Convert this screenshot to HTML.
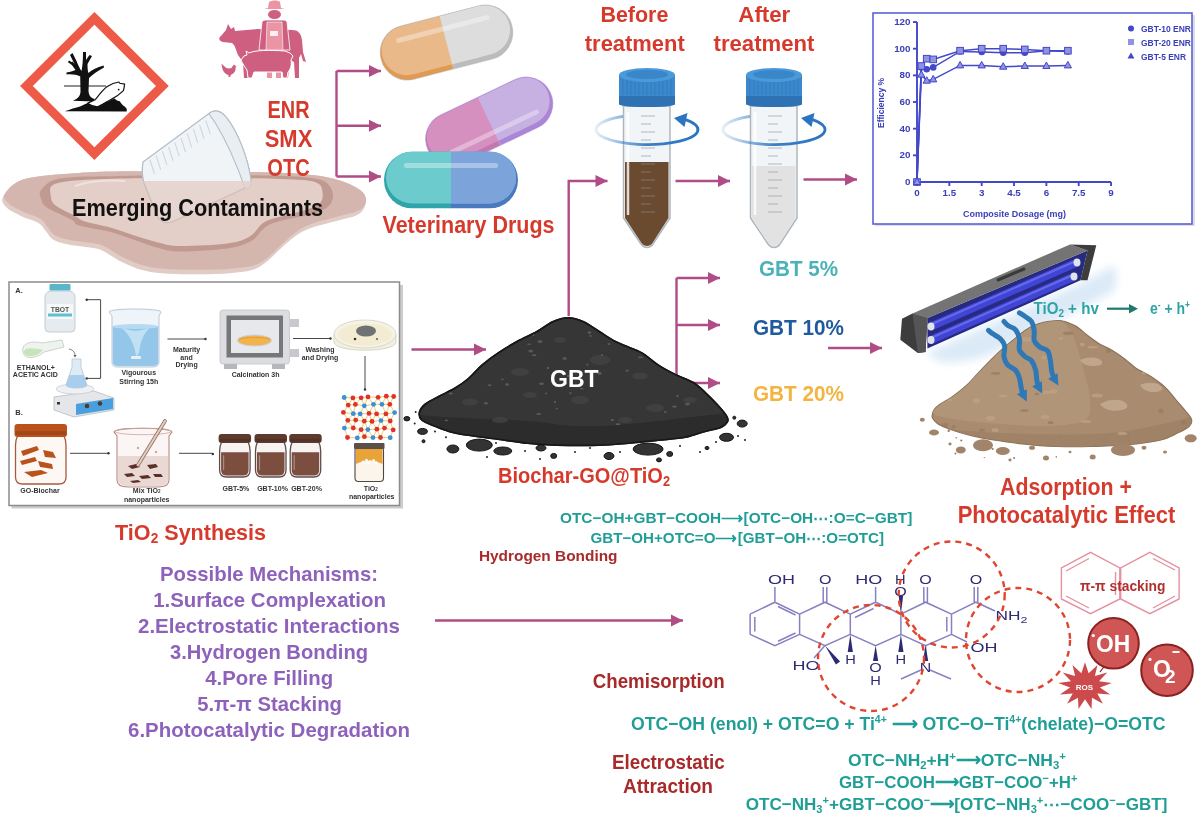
<!DOCTYPE html>
<html><head><meta charset="utf-8">
<style>
html,body{margin:0;padding:0;background:#fff;}
body{width:1200px;height:817px;overflow:hidden;position:relative;}
svg{position:absolute;left:0;top:0;filter:blur(0.35px);}
text{font-family:"Liberation Sans",Arial,sans-serif;}
.red{fill:#d63a2c;}
.dred{fill:#a82a2a;}
.teal{fill:#1f9e96;}
.pur{fill:#8e62bb;}
</style></head>
<body>
<svg width="1200" height="817" viewBox="0 0 1200 817">
<g stroke="#b04c86" stroke-width="2.4" fill="none"><path d="M336.5,71 V176.5"/><path d="M336.5,71 H381"/><path d="M336.5,125.7 H381"/><path d="M336.5,176.5 H381"/><path d="M568.7,316 V181 H607.5"/><path d="M675.5,181 H730"/><path d="M803.5,179.5 H857"/><path d="M411.5,349.5 H486"/><path d="M676.5,278 V383"/><path d="M676.5,278 H720"/><path d="M676.5,325 H720"/><path d="M676.5,383 H720"/><path d="M828,348 H882"/><path d="M435,620.5 H683"/></g><path d="M381,71 L369,65 L369,77 Z" fill="#b04c86"/><path d="M381,125.7 L369,119.7 L369,131.7 Z" fill="#b04c86"/><path d="M381,176.5 L369,170.5 L369,182.5 Z" fill="#b04c86"/><path d="M607.5,181 L595.5,175 L595.5,187 Z" fill="#b04c86"/><path d="M730,181 L718,175 L718,187 Z" fill="#b04c86"/><path d="M857,179.5 L845,173.5 L845,185.5 Z" fill="#b04c86"/><path d="M486,349.5 L474,343.5 L474,355.5 Z" fill="#b04c86"/><path d="M720,278 L708,272 L708,284 Z" fill="#b04c86"/><path d="M720,325 L708,319 L708,331 Z" fill="#b04c86"/><path d="M720,383 L708,377 L708,389 Z" fill="#b04c86"/><path d="M882,348 L870,342 L870,354 Z" fill="#b04c86"/><path d="M683,620.5 L671,614.5 L671,626.5 Z" fill="#b04c86"/>
<path d="M94.4,18.3 L162.4,86 L94.4,153.7 L26.4,86 Z" fill="#fff" stroke="#ee5a48" stroke-width="9" stroke-linejoin="miter"/>
<path d="M64,86 H106" stroke="#222" stroke-width="1.1"/>
<path d="M73,100.8 C77,99 80,97 80.5,92 L80.2,76 C79,72 76,68 73.5,62 L70,55 L72.5,53 L76.5,61 C78,65 80,69 81.5,71 C82.5,66 83,60 83,52 L86,52 L86,60 L89.5,55 L92,56 L87.5,64 C87.5,68 87.8,71 88.3,73 C92,70 97,67 103.6,65.5 L104,67.5 C98,71 93,74 89,78 L88.5,91 C89,96 91,98 94.5,99 L94,101.5 Z" fill="#111"/>
<path d="M80.4,76.5 C77,75 72,74 66.5,74.5 L66.5,72.5 C70,72 73,71 75.5,70 L70.5,63 L72.5,61.5 L77.5,68.5 C79,70 80.5,72 80.8,73 Z" fill="#111"/>
<path d="M68.5,61.3 L76.5,66.5" stroke="#111" stroke-width="2.2"/>
<path d="M64.6,111.2 C70,109.5 76,107.5 80,106.5 C84,104.5 87,103.2 89,103 L99,102.5 C104,102 108,101.5 110,100.5 L114.4,98.4 L117,100.5 L119.7,101.2 L121.5,103.8 L123.2,105.6 L125,106.8 L126.8,109 L126.7,111.5 Z" fill="#111"/>
<path d="M87.5,103.3 C90,102 93,100.8 95.5,99.4 C99,95 103,89.5 107.3,86.6 C111,84 115,82.4 118.8,82 L120,83.5 L121.5,83.5 L124.6,84.2 C124.4,86 124,88.5 123.4,90.6 C119,95 114,98 110.9,99.6 C106,102.5 101,105 97.6,106.8 C95,106.8 92,106.5 87.5,103.3 Z" fill="#fff" stroke="#111" stroke-width="1.2" stroke-linejoin="round"/>
<circle cx="118.7" cy="89.6" r="0.9" fill="#111"/>
<path d="M221,36 L226,30 L228,24 L231,29 L234,27 L235,31 L258,29 L292,30 C298,30 301,33 302,40 L303,52 L306,62 L303,61 L301,54 L299,58 L299,78 L295,78 L294,62 L290,60 L288,78 L284,78 L283,62 L250,60 L248,78 L244,78 L243,62 L238,55 C236,50 235,45 232,43 L223,42 C219,41 218,38 221,36 Z" fill="#cf5f80"/>
<path d="M264,9 L268,8 L269,2 C272,0 278,0 280,2 L281,8 L285,9 Z" fill="#eb95a4"/>
<ellipse cx="274.5" cy="14.5" rx="6.5" ry="4.5" fill="#cf5f80"/>
<path d="M262,22 C262,21 264,20 266,20 L283,20 C285,20 287,21 287,22 L290,50 L259,50 Z" fill="#cf5f80" stroke="#fff" stroke-width="0.8"/>
<path d="M267,22 L282,22 L283,50 L266,50 Z" fill="#eb95a4" stroke="#fff" stroke-width="0.6"/>
<rect x="270" y="31" width="8" height="5" fill="#fff" opacity="0.85"/>
<rect x="267" y="71" width="5" height="7" fill="#eb95a4"/><rect x="276" y="71" width="5" height="7" fill="#eb95a4"/>
<path d="M241,60 L244,56 L247,55 L246,51 L249,53 C255,50 270,50 285,51 L290,53 L293,56 L291,60 C292,66 290,70 288,72 L287,78 L283,78 L282,72 L254,72 L252,78 L248,78 L247,70 C245,67 242,63 241,60 Z" fill="#cf5f80" stroke="#fff" stroke-width="1"/>
<path d="M221.5,63.5 L224,66 C226,68.5 229,69 231.5,68 L233,65.5 L234.5,64.5 L235,65.5 L236.5,66.5 L235.5,67.5 C236,70.5 234.5,73.5 231,74.8 L230,77 L228.5,77 L228.5,75 C224.5,74 222,70.5 221.5,63.5 Z" fill="#cf5f80"/>
<clipPath id="pclip"><path d="M3.3,196.5 C6.2,191.8 11.0,183.2 23.7,179.3 C36.4,175.4 59.9,174.2 79.2,172.9 C98.5,171.6 110.6,171.4 139.3,171.3 C168.0,171.2 223.3,171.6 251.2,172.1 C279.1,172.6 292.2,173.2 306.7,174.5 C321.2,175.8 329.3,177.4 338.3,180.0 C347.3,182.6 355.9,186.7 360.5,190.3 C365.1,193.9 366.2,197.5 366.0,201.4 C365.8,205.3 363.6,210.8 359.0,214.0 C354.4,217.2 345.7,218.3 338.3,220.4 C330.9,222.5 321.0,224.6 314.6,226.7 C308.2,228.8 304.4,230.4 300.0,233.0 C295.6,235.6 292.0,238.7 288.0,242.0 C284.0,245.3 279.8,249.5 276.0,253.0 C272.2,256.5 269.0,260.2 265.0,263.0 C261.0,265.8 258.4,268.3 252.0,270.0 C245.6,271.7 237.0,272.7 226.7,273.4 C216.4,274.1 200.7,274.3 190.0,274.3 C179.3,274.3 170.8,274.1 162.5,273.3 C154.2,272.5 147.1,271.6 140.0,269.5 C132.9,267.4 125.0,263.4 120.0,261.0 C115.0,258.6 113.3,256.9 110.0,255.0 C106.7,253.1 103.7,250.8 100.0,249.5 C96.3,248.2 93.7,248.1 88.0,247.2 C82.3,246.3 71.8,245.2 66.0,243.9 C60.1,242.6 56.2,241.5 52.9,239.5 C49.6,237.5 48.7,234.6 46.3,231.8 C43.9,229.1 42.6,225.6 38.6,223.0 C34.6,220.4 27.3,219.0 22.0,216.4 C16.7,213.8 9.7,210.8 6.6,207.5 C3.5,204.2 0.4,201.2 3.3,196.5Z"/></clipPath>
<path d="M3.3,196.5 C6.2,191.8 11.0,183.2 23.7,179.3 C36.4,175.4 59.9,174.2 79.2,172.9 C98.5,171.6 110.6,171.4 139.3,171.3 C168.0,171.2 223.3,171.6 251.2,172.1 C279.1,172.6 292.2,173.2 306.7,174.5 C321.2,175.8 329.3,177.4 338.3,180.0 C347.3,182.6 355.9,186.7 360.5,190.3 C365.1,193.9 366.2,197.5 366.0,201.4 C365.8,205.3 363.6,210.8 359.0,214.0 C354.4,217.2 345.7,218.3 338.3,220.4 C330.9,222.5 321.0,224.6 314.6,226.7 C308.2,228.8 304.4,230.4 300.0,233.0 C295.6,235.6 292.0,238.7 288.0,242.0 C284.0,245.3 279.8,249.5 276.0,253.0 C272.2,256.5 269.0,260.2 265.0,263.0 C261.0,265.8 258.4,268.3 252.0,270.0 C245.6,271.7 237.0,272.7 226.7,273.4 C216.4,274.1 200.7,274.3 190.0,274.3 C179.3,274.3 170.8,274.1 162.5,273.3 C154.2,272.5 147.1,271.6 140.0,269.5 C132.9,267.4 125.0,263.4 120.0,261.0 C115.0,258.6 113.3,256.9 110.0,255.0 C106.7,253.1 103.7,250.8 100.0,249.5 C96.3,248.2 93.7,248.1 88.0,247.2 C82.3,246.3 71.8,245.2 66.0,243.9 C60.1,242.6 56.2,241.5 52.9,239.5 C49.6,237.5 48.7,234.6 46.3,231.8 C43.9,229.1 42.6,225.6 38.6,223.0 C34.6,220.4 27.3,219.0 22.0,216.4 C16.7,213.8 9.7,210.8 6.6,207.5 C3.5,204.2 0.4,201.2 3.3,196.5Z" fill="#e0cbc5"/>
<g clip-path="url(#pclip)"><path d="M3.3,196.5 C6.2,191.8 11.0,183.2 23.7,179.3 C36.4,175.4 59.9,174.2 79.2,172.9 C98.5,171.6 110.6,171.4 139.3,171.3 C168.0,171.2 223.3,171.6 251.2,172.1 C279.1,172.6 292.2,173.2 306.7,174.5 C321.2,175.8 329.3,177.4 338.3,180.0 C347.3,182.6 355.9,186.7 360.5,190.3 C365.1,193.9 366.2,197.5 366.0,201.4 C365.8,205.3 363.6,210.8 359.0,214.0 C354.4,217.2 345.7,218.3 338.3,220.4 C330.9,222.5 321.0,224.6 314.6,226.7 C308.2,228.8 304.4,230.4 300.0,233.0 C295.6,235.6 292.0,238.7 288.0,242.0 C284.0,245.3 279.8,249.5 276.0,253.0 C272.2,256.5 269.0,260.2 265.0,263.0 C261.0,265.8 258.4,268.3 252.0,270.0 C245.6,271.7 237.0,272.7 226.7,273.4 C216.4,274.1 200.7,274.3 190.0,274.3 C179.3,274.3 170.8,274.1 162.5,273.3 C154.2,272.5 147.1,271.6 140.0,269.5 C132.9,267.4 125.0,263.4 120.0,261.0 C115.0,258.6 113.3,256.9 110.0,255.0 C106.7,253.1 103.7,250.8 100.0,249.5 C96.3,248.2 93.7,248.1 88.0,247.2 C82.3,246.3 71.8,245.2 66.0,243.9 C60.1,242.6 56.2,241.5 52.9,239.5 C49.6,237.5 48.7,234.6 46.3,231.8 C43.9,229.1 42.6,225.6 38.6,223.0 C34.6,220.4 27.3,219.0 22.0,216.4 C16.7,213.8 9.7,210.8 6.6,207.5 C3.5,204.2 0.4,201.2 3.3,196.5Z" fill="#d5b6ae" transform="translate(1.5,-4.5)"/></g>
<path d="M60.0,178.5 C46.9,180.8 44.3,186.4 41.2,190.0 C38.1,193.6 40.5,197.0 41.5,200.0 C42.5,203.0 42.5,204.8 47.5,208.0 C52.5,211.2 66.0,216.6 71.3,219.5 C76.6,222.4 72.6,223.4 79.2,225.5 C85.8,227.6 101.6,229.6 110.8,232.0 C120.0,234.4 126.7,237.3 134.6,240.0 C142.5,242.7 150.7,246.1 158.3,248.0 C165.9,249.9 168.5,251.4 180.0,251.5 C191.5,251.6 215.6,250.2 227.5,248.5 C239.4,246.8 245.4,244.1 251.2,241.0 C257.0,237.9 258.9,232.9 262.3,230.0 C265.7,227.1 267.1,225.4 271.8,223.5 C276.6,221.6 283.7,220.2 290.8,218.5 C297.9,216.8 308.3,215.6 314.6,213.5 C320.9,211.4 325.7,209.1 328.8,206.0 C331.9,202.9 333.1,198.7 333.0,195.0 C332.9,191.3 331.1,186.8 328.0,184.0 C324.9,181.2 322.1,179.8 314.6,178.5 C307.1,177.2 302.1,176.6 283.0,176.0 C263.9,175.4 227.2,175.0 200.0,175.0 C172.8,175.0 143.3,175.4 120.0,176.0 C96.7,176.6 73.1,176.2 60.0,178.5Z" fill="#c09a90"/>
<path d="M70.0,181.0 C58.7,182.2 55.4,183.3 52.2,185.6 C49.0,187.9 50.2,191.8 50.7,195.0 C51.2,198.2 51.0,201.5 55.0,205.0 C59.0,208.5 70.0,213.2 75.0,216.0 C80.0,218.8 78.8,219.5 85.0,221.5 C91.2,223.5 103.5,225.6 112.0,228.0 C120.5,230.4 128.0,233.5 136.0,236.0 C144.0,238.5 152.7,241.3 160.0,243.0 C167.3,244.7 168.8,245.9 180.0,246.0 C191.2,246.1 215.9,245.1 227.5,243.5 C239.1,241.9 243.9,239.8 249.7,236.5 C255.5,233.2 258.6,226.5 262.3,223.6 C266.0,220.7 267.1,220.6 271.8,219.0 C276.6,217.4 283.1,216.3 290.8,214.0 C298.5,211.7 312.7,208.7 318.0,205.0 C323.3,201.3 323.0,195.8 322.5,192.0 C322.0,188.2 321.9,184.2 315.0,182.0 C308.1,179.8 300.5,179.7 281.3,179.0 C262.1,178.3 226.9,178.1 200.0,178.0 C173.1,177.9 141.7,178.0 120.0,178.5 C98.3,179.0 81.3,179.8 70.0,181.0Z" fill="#e4cec8"/>
<path d="M75,186 C90,181 110,180 125,181" stroke="#efe2de" stroke-width="2" fill="none"/>
<path d="M143,162 L209,113.5 C214,109.5 220,110 226,117 C238,132 248,158 251,180 C252,186 249,189 245,188 L172,222 C165,224 160,222 157,215 L144,183 C142,176 142,168 143,162 Z" fill="#f1f4f7" stroke="#b3bec7" stroke-width="1.3"/>
<path d="M209,113.5 C214,109.5 220,110 226,117 C238,132 248,158 251,180 C252,186 249,189 245,188 C238,168 228,144 216,124 C213,119 210,116 209,113.5 Z" fill="#e9eef2" stroke="#b3bec7" stroke-width="1.1"/>
<path d="M150.0,160.0 l4.5,14 M156.2,155.6 l4.5,14 M162.4,151.2 l4.5,14 M168.6,146.8 l4.5,14 M174.8,142.4 l4.5,14 M181.0,138.0 l4.5,14 M187.2,133.6 l4.5,14 M193.4,129.2 l4.5,14 M199.6,124.8 l4.5,14 M205.8,120.4 l4.5,14 " stroke="#cdd6de" stroke-width="1.1"/>
<path d="M143,181 L252,181 L252,190 L245,189 L172,223 C165,225 160,223 157,216 Z" fill="#e4cec8" opacity="0.82"/>
<path d="M245,188 L172,222 C165,224 160,222 157,215 L144,183" fill="none" stroke="#d2bcb6" stroke-width="1"/>
<g transform="translate(446.5,42.5) rotate(-14.5)"><clipPath id="cp44642"><rect x="-67.5" y="-27.5" width="135" height="55" rx="27.5"/></clipPath><g clip-path="url(#cp44642)"><rect x="-67.5" y="-27.5" width="67.5" height="55" fill="#e09a52"/><rect x="0" y="-27.5" width="67.5" height="55" fill="#bcbcbc"/><rect x="-65.5" y="-27.5" width="131" height="50" rx="25.5" fill="#eab98a"/><rect x="0" y="-27.5" width="65.5" height="50" rx="25.5" fill="#dddddd"/><rect x="0" y="-27.5" width="27.5" height="50" fill="#dddddd"/><rect x="-48.25" y="-16.5" width="96.5" height="4.95" rx="2" fill="#ffffff" opacity="0.35"/></g><rect x="-67.5" y="-27.5" width="135" height="55" rx="27.5" fill="none" stroke="#b0b0b0" stroke-width="1" opacity="0.6"/></g>
<g transform="translate(489.2,121.3) rotate(-25.5)"><clipPath id="cp489121"><rect x="-67.5" y="-26.5" width="135" height="53" rx="26.5"/></clipPath><g clip-path="url(#cp489121)"><rect x="-67.5" y="-26.5" width="67.5" height="53" fill="#c478b0"/><rect x="0" y="-26.5" width="67.5" height="53" fill="#a987d6"/><rect x="-65.5" y="-26.5" width="131" height="48" rx="24.5" fill="#d690c0"/><rect x="0" y="-26.5" width="65.5" height="48" rx="24.5" fill="#c7b0e2"/><rect x="0" y="-26.5" width="26.5" height="48" fill="#c7b0e2"/><rect x="-48.95" y="9.54" width="97.9" height="4.77" rx="2" fill="#ffffff" opacity="0.35"/></g><rect x="-67.5" y="-26.5" width="135" height="53" rx="26.5" fill="none" stroke="#a27ad2" stroke-width="1" opacity="0.6"/></g>
<g transform="translate(451,180) rotate(0)"><clipPath id="cp451180"><rect x="-67.0" y="-28.5" width="134" height="57" rx="28.5"/></clipPath><g clip-path="url(#cp451180)"><rect x="-67.0" y="-28.5" width="67.0" height="57" fill="#2fa5a9"/><rect x="0" y="-28.5" width="67.0" height="57" fill="#4a79c0"/><rect x="-65.0" y="-28.5" width="130" height="52" rx="26.5" fill="#6ccbcc"/><rect x="0" y="-28.5" width="65.0" height="52" rx="26.5" fill="#7ca3da"/><rect x="0" y="-28.5" width="28.5" height="52" fill="#7ca3da"/><rect x="-47.05" y="-17.1" width="94.1" height="5.13" rx="2" fill="#ffffff" opacity="0.35"/></g></g>
<path d="M623.5,106 L670,106 L670,218 L653,244 C650,248.5 644,248.5 641,244 L623.5,218 Z" fill="#f2f5f8" stroke="#aeb6be" stroke-width="1.5"/>
<path d="M625,162 L668.5,162 L668.5,218 L652.5,243 C650,247 644,247 641.5,243 L625,218 Z" fill="#6b4b2f"/>
<path d="M641,116 h14 M641,124 h10 M641,132 h14 M641,140 h10 M641,148 h14 M641,156 h10 M641,164 h14 M641,172 h10 M641,180 h14 M641,188 h10 M641,196 h14 M641,204 h10 M641,212 h14 " stroke="#8a9096" stroke-width="1" opacity="0.6"/>
<path d="M628,112 L628,215" stroke="#ffffff" stroke-width="2.5" opacity="0.8"/>
<path d="M619,75 L675,75 L675,104 C675,108 619,108 619,104 Z" fill="#3b88cc"/>
<path d="M619,96 L675,96 L675,104 C675,108 619,108 619,104 Z" fill="#2f72b3"/>
<path d="M623,78 V95 M627,78 V95 M631,78 V95 M635,78 V95 M639,78 V95 M643,78 V95 M647,78 V95 M651,78 V95 M655,78 V95 M659,78 V95 M663,78 V95 M667,78 V95 M671,78 V95 " stroke="#2f78bd" stroke-width="1" opacity="0.7"/>
<ellipse cx="647" cy="75" rx="28" ry="7" fill="#4a9ad9"/>
<ellipse cx="647" cy="74.5" rx="21" ry="4.5" fill="#3a86ca"/>
<defs><linearGradient id="rg647" gradientUnits="userSpaceOnUse" x1="595" x2="699" y1="0" y2="0"><stop offset="0" stop-color="#3a80c8" stop-opacity="0.12"/><stop offset="0.5" stop-color="#2f7ac4" stop-opacity="0.95"/><stop offset="1" stop-color="#2a74c0"/></linearGradient></defs>
<path d="M623,116.3 A51,15 0 1 0 685.5,119.7" fill="none" stroke="url(#rg647)" stroke-width="2.8"/>
<path d="M674,118.0 L687.5,113.0 L684.5,127.0 Z" fill="#2a74c0"/>
<path d="M750.5,106 L797,106 L797,218 L780,244 C777,248.5 771,248.5 768,244 L750.5,218 Z" fill="#f2f5f8" stroke="#aeb6be" stroke-width="1.5"/>
<path d="M752,166 L795.5,166 L795.5,218 L779.5,243 C777,247 771,247 768.5,243 L752,218 Z" fill="#e2e2e2"/>
<path d="M768,116 h14 M768,124 h10 M768,132 h14 M768,140 h10 M768,148 h14 M768,156 h10 M768,164 h14 M768,172 h10 M768,180 h14 M768,188 h10 M768,196 h14 M768,204 h10 M768,212 h14 " stroke="#8a9096" stroke-width="1" opacity="0.6"/>
<path d="M755,112 L755,215" stroke="#ffffff" stroke-width="2.5" opacity="0.8"/>
<path d="M746,75 L802,75 L802,104 C802,108 746,108 746,104 Z" fill="#3b88cc"/>
<path d="M746,96 L802,96 L802,104 C802,108 746,108 746,104 Z" fill="#2f72b3"/>
<path d="M750,78 V95 M754,78 V95 M758,78 V95 M762,78 V95 M766,78 V95 M770,78 V95 M774,78 V95 M778,78 V95 M782,78 V95 M786,78 V95 M790,78 V95 M794,78 V95 M798,78 V95 " stroke="#2f78bd" stroke-width="1" opacity="0.7"/>
<ellipse cx="774" cy="75" rx="28" ry="7" fill="#4a9ad9"/>
<ellipse cx="774" cy="74.5" rx="21" ry="4.5" fill="#3a86ca"/>
<defs><linearGradient id="rg774" gradientUnits="userSpaceOnUse" x1="722" x2="826" y1="0" y2="0"><stop offset="0" stop-color="#3a80c8" stop-opacity="0.12"/><stop offset="0.5" stop-color="#2f7ac4" stop-opacity="0.95"/><stop offset="1" stop-color="#2a74c0"/></linearGradient></defs>
<path d="M750,116.3 A51,15 0 1 0 812.5,119.7" fill="none" stroke="url(#rg774)" stroke-width="2.8"/>
<path d="M801,118.0 L814.5,113.0 L811.5,127.0 Z" fill="#2a74c0"/>
<rect x="875" y="15" width="320" height="211" fill="#c8c8d8" opacity="0.6"/>
<rect x="873" y="13" width="319" height="211" fill="#fff" stroke="#5b62d8" stroke-width="1.6"/>
<g stroke="#4348c8" stroke-width="1.9" fill="none"><path d="M917.0,22.039999999999992 V182.0 H1111.04"/><path d="M913.0,182.0 H917.0"/><path d="M913.0,155.34 H917.0"/><path d="M913.0,128.68 H917.0"/><path d="M913.0,102.02 H917.0"/><path d="M913.0,75.36 H917.0"/><path d="M913.0,48.70000000000002 H917.0"/><path d="M913.0,22.039999999999992 H917.0"/><path d="M917.0,182.0 V186.0"/><path d="M949.34,182.0 V186.0"/><path d="M981.68,182.0 V186.0"/><path d="M1014.02,182.0 V186.0"/><path d="M1046.36,182.0 V186.0"/><path d="M1078.7,182.0 V186.0"/><path d="M1111.04,182.0 V186.0"/></g>
<polyline points="917.0,182.0 921.3,74.7 926.7,80.7 933.2,79.4 960.1,65.4 981.7,65.4 1003.2,66.7 1024.8,66.0 1046.4,66.0 1067.9,65.4" fill="none" stroke="#4348c8" stroke-width="1.5"/>
<polyline points="917.0,182.0 921.3,67.4 926.7,69.2 933.2,67.4 960.1,51.4 981.7,52.0 1003.2,52.7 1024.8,52.7 1046.4,50.7 1067.9,51.4" fill="none" stroke="#4348c8" stroke-width="1.5"/>
<polyline points="917.0,182.0 921.3,66.0 926.7,58.7 933.2,59.4 960.1,50.7 981.7,48.7 1003.2,48.7 1024.8,49.4 1046.4,50.7 1067.9,50.7" fill="none" stroke="#4348c8" stroke-width="1.5"/>
<circle cx="917.0" cy="182.0" r="3.3" fill="#4348c8"/>
<circle cx="921.3" cy="67.4" r="3.3" fill="#4348c8"/>
<circle cx="926.7" cy="69.2" r="3.3" fill="#4348c8"/>
<circle cx="933.2" cy="67.4" r="3.3" fill="#4348c8"/>
<circle cx="960.1" cy="51.4" r="3.3" fill="#4348c8"/>
<circle cx="981.7" cy="52.0" r="3.3" fill="#4348c8"/>
<circle cx="1003.2" cy="52.7" r="3.3" fill="#4348c8"/>
<circle cx="1024.8" cy="52.7" r="3.3" fill="#4348c8"/>
<circle cx="1046.4" cy="50.7" r="3.3" fill="#4348c8"/>
<circle cx="1067.9" cy="51.4" r="3.3" fill="#4348c8"/>
<rect x="913.7" y="178.7" width="6.6" height="6.6" fill="#8f93e2" stroke="#4348c8" stroke-width="1"/>
<rect x="918.0" y="62.7" width="6.6" height="6.6" fill="#8f93e2" stroke="#4348c8" stroke-width="1"/>
<rect x="923.4" y="55.4" width="6.6" height="6.6" fill="#8f93e2" stroke="#4348c8" stroke-width="1"/>
<rect x="929.9" y="56.1" width="6.6" height="6.6" fill="#8f93e2" stroke="#4348c8" stroke-width="1"/>
<rect x="956.8" y="47.4" width="6.6" height="6.6" fill="#8f93e2" stroke="#4348c8" stroke-width="1"/>
<rect x="978.4" y="45.4" width="6.6" height="6.6" fill="#8f93e2" stroke="#4348c8" stroke-width="1"/>
<rect x="999.9" y="45.4" width="6.6" height="6.6" fill="#8f93e2" stroke="#4348c8" stroke-width="1"/>
<rect x="1021.5" y="46.1" width="6.6" height="6.6" fill="#8f93e2" stroke="#4348c8" stroke-width="1"/>
<rect x="1043.1" y="47.4" width="6.6" height="6.6" fill="#8f93e2" stroke="#4348c8" stroke-width="1"/>
<rect x="1064.6" y="47.4" width="6.6" height="6.6" fill="#8f93e2" stroke="#4348c8" stroke-width="1"/>
<path d="M917.0,178.0 l3.6,6.5 h-7.2 Z" fill="#8f93e2" stroke="#4348c8" stroke-width="1"/>
<path d="M921.3,70.7 l3.6,6.5 h-7.2 Z" fill="#8f93e2" stroke="#4348c8" stroke-width="1"/>
<path d="M926.7,76.7 l3.6,6.5 h-7.2 Z" fill="#8f93e2" stroke="#4348c8" stroke-width="1"/>
<path d="M933.2,75.4 l3.6,6.5 h-7.2 Z" fill="#8f93e2" stroke="#4348c8" stroke-width="1"/>
<path d="M960.1,61.4 l3.6,6.5 h-7.2 Z" fill="#8f93e2" stroke="#4348c8" stroke-width="1"/>
<path d="M981.7,61.4 l3.6,6.5 h-7.2 Z" fill="#8f93e2" stroke="#4348c8" stroke-width="1"/>
<path d="M1003.2,62.7 l3.6,6.5 h-7.2 Z" fill="#8f93e2" stroke="#4348c8" stroke-width="1"/>
<path d="M1024.8,62.0 l3.6,6.5 h-7.2 Z" fill="#8f93e2" stroke="#4348c8" stroke-width="1"/>
<path d="M1046.4,62.0 l3.6,6.5 h-7.2 Z" fill="#8f93e2" stroke="#4348c8" stroke-width="1"/>
<path d="M1067.9,61.4 l3.6,6.5 h-7.2 Z" fill="#8f93e2" stroke="#4348c8" stroke-width="1"/>
<g fill="#3a3eb8" font-weight="bold" font-size="9.8" font-family="Liberation Sans,Arial,sans-serif"><text x="910.5" y="185.0" text-anchor="end">0</text><text x="910.5" y="158.3" text-anchor="end">20</text><text x="910.5" y="131.7" text-anchor="end">40</text><text x="910.5" y="105.0" text-anchor="end">60</text><text x="910.5" y="78.4" text-anchor="end">80</text><text x="910.5" y="51.7" text-anchor="end">100</text><text x="910.5" y="25.0" text-anchor="end">120</text><text x="917.0" y="196" text-anchor="middle">0</text><text x="949.3" y="196" text-anchor="middle">1.5</text><text x="981.7" y="196" text-anchor="middle">3</text><text x="1014.0" y="196" text-anchor="middle">4.5</text><text x="1046.4" y="196" text-anchor="middle">6</text><text x="1078.7" y="196" text-anchor="middle">7.5</text><text x="1111.0" y="196" text-anchor="middle">9</text><text x="1014.5" y="216.5" text-anchor="middle" font-size="9" textLength="103" lengthAdjust="spacingAndGlyphs">Composite Dosage (mg)</text><text transform="translate(883.5,103) rotate(-90)" text-anchor="middle" font-size="8.5">Efficiency %</text><text x="1141" y="32" font-size="8.8" textLength="50" lengthAdjust="spacingAndGlyphs">GBT-10 ENR</text><text x="1141" y="45.5" font-size="8.8" textLength="50" lengthAdjust="spacingAndGlyphs">GBT-20 ENR</text><text x="1141" y="59.5" font-size="8.8" textLength="45" lengthAdjust="spacingAndGlyphs">GBT-5 ENR</text></g>
<circle cx="1131" cy="28.5" r="3" fill="#4348c8"/>
<rect x="1128" y="39" width="6" height="6" fill="#8f93e2"/>
<path d="M1131,52.5 l3.5,6 h-7 Z" fill="#4348c8"/>
<rect x="11.5" y="285" width="391.5" height="223.5" fill="#9a9a9a" opacity="0.5"/>
<rect x="9" y="282" width="390.5" height="223.5" fill="#fff" stroke="#8c8c8c" stroke-width="1.5"/>
<path d="M50,291 H70 Q75,292 75,298 V328 Q75,332 71,332 H49 Q45,332 45,328 V298 Q45,292 50,291 Z" fill="#e6ebef" stroke="#c4cdd4" stroke-width="1"/>
<rect x="49.5" y="284" width="21" height="6.5" rx="1" fill="#5ab6c9"/>
<rect x="47" y="304" width="26" height="15" fill="#f6f8fa"/>
<rect x="48" y="313.5" width="24" height="3" fill="#5fc0d0"/>
<path d="M23,352 C21,344 30,340 42,343 L62,340 L64,347 L44,352 C36,359 24,360 23,352 Z" fill="#eef3f0" stroke="#c0cac4" stroke-width="0.8"/>
<path d="M23.5,352 C25,347 34,348 43,350 C36,358 25,358 23.5,352 Z" fill="#c6e4b8"/>
<path d="M69,349 C73,350 75,352 75,356" stroke="#555" stroke-width="0.8" fill="none"/><path d="M73.5,355 l1.5,2.5 l1.5,-2.5Z" fill="#555"/>
<path d="M54,397 L94,391 L114,398 L114,410 L74,417 L54,410 Z" fill="#e4e6e9" stroke="#b9bcc0" stroke-width="0.8"/>
<path d="M76,404 L113,398 L113,409 L76,415 Z" fill="#4aa0dc"/>
<circle cx="87" cy="406" r="2.3" fill="#4a3a30"/><circle cx="100" cy="403.5" r="2.3" fill="#4a3a30"/>
<rect x="57" y="402" width="3" height="2.5" fill="#333"/>
<ellipse cx="75" cy="389" rx="19" ry="5" fill="#eef0f2" stroke="#c9ccd0" stroke-width="0.8"/>
<path d="M72,359 L81,359 L81,367 L87,385 C87,389 66,389 66,385 L72,367 Z" fill="#dcebf6" stroke="#b8c6d2" stroke-width="0.8"/>
<path d="M69.5,375 L83.5,375 L87,385 C87,389 66,389 66,385 Z" fill="#a9cdec"/>
<path d="M86.5,299.7 H100.6 V378.4 H86.5" stroke="#333" stroke-width="0.9" fill="none"/>
<circle cx="86.7" cy="299.7" r="1.2" fill="#333"/><circle cx="86.7" cy="378.4" r="1.2" fill="#333"/>
<path d="M109,312 C109,308 161,308 161,312 L159,316 L159,362 C159,366 156,367 152,367 L118,367 C114,367 112,366 112,362 L112,316 Z" fill="#eef4f9" stroke="#b9c8d4" stroke-width="1"/>
<path d="M112.8,326 L158.2,326 L158.2,362 C158.2,365 156,366 152,366 L118,366 C115,366 112.8,365 112.8,362 Z" fill="#94c6ea"/>
<ellipse cx="135.5" cy="326.5" rx="22.7" ry="2.5" fill="#b6daf2"/>
<path d="M121,327 C130,332 141,332 150,327 C145,333 141,338 139.5,350 C139,354 137,356 136,356 C135,347 131,336 121,327 Z" fill="#c4e2f5" opacity="0.9"/>
<rect x="131" y="356" width="10" height="3" rx="1" fill="#e8eef2"/>
<path d="M167.5,339 H205" stroke="#333" stroke-width="0.9"/><circle cx="205.5" cy="339" r="1.2" fill="#333"/>
<rect x="220" y="310" width="69.5" height="54" rx="3" fill="#dcdde0" stroke="#c2c4c8" stroke-width="0.8"/>
<rect x="226.5" y="315.5" width="56.5" height="42" fill="#767779"/>
<rect x="231" y="320" width="48" height="33" fill="#e6e8ec"/>
<ellipse cx="254.5" cy="340.5" rx="17" ry="5.5" fill="#f2b24c" stroke="#c9d0e6" stroke-width="1"/>
<path d="M239,339 C246,337 263,337 270,339" stroke="#e09a30" stroke-width="0.8" fill="none"/>
<rect x="224" y="364" width="13" height="5" fill="#b5b7ba"/><rect x="272" y="364" width="13" height="5" fill="#b5b7ba"/>
<rect x="290" y="319" width="9" height="8" fill="#c8c9cc"/><rect x="290" y="349" width="9" height="8" fill="#c8c9cc"/>
<path d="M293,338.5 H330" stroke="#333" stroke-width="0.9"/><circle cx="330.5" cy="338.5" r="1.2" fill="#333"/>
<path d="M334,334 L334,342 C334,353 396,353 396,342 L396,334 Z" fill="#f1efe0" stroke="#cfcfc2" stroke-width="0.8"/>
<ellipse cx="365" cy="334" rx="31" ry="14" fill="#f6f3e4" stroke="#d3d2c6" stroke-width="0.8"/>
<ellipse cx="365" cy="334.5" rx="27" ry="11" fill="#f3ebd2"/>
<ellipse cx="366" cy="331" rx="10" ry="5.5" fill="#6f7273"/>
<circle cx="355" cy="339" r="1.3" fill="#333"/><circle cx="377" cy="339" r="1.1" fill="#666"/>
<path d="M365,356 V389" stroke="#333" stroke-width="0.9"/><circle cx="365" cy="389.5" r="1.2" fill="#333"/>
<g stroke="#e7c24a" stroke-width="0.8" fill="none"><path d="M344.2,397.5 L352.9,397.9"/><path d="M344.2,397.5 L348.2,405.1"/><path d="M352.9,397.9 L361.1,397.8"/><path d="M352.9,397.9 L355.4,404.4"/><path d="M361.1,397.8 L368.0,396.9"/><path d="M361.1,397.8 L364.3,405.8"/><path d="M368.0,396.9 L378.1,397.3"/><path d="M368.0,396.9 L373.5,404.3"/><path d="M378.1,397.3 L386.3,396.2"/><path d="M378.1,397.3 L381.9,404.3"/><path d="M386.3,396.2 L393.7,396.5"/><path d="M386.3,396.2 L389.8,404.3"/><path d="M348.2,405.1 L352.9,397.9"/><path d="M348.2,405.1 L355.4,404.4"/><path d="M348.2,405.1 L353.3,413.7"/><path d="M355.4,404.4 L361.1,397.8"/><path d="M355.4,404.4 L364.3,405.8"/><path d="M364.3,405.8 L368.0,396.9"/><path d="M364.3,405.8 L373.5,404.3"/><path d="M364.3,405.8 L369.0,413.4"/><path d="M373.5,404.3 L378.1,397.3"/><path d="M373.5,404.3 L381.9,404.3"/><path d="M373.5,404.3 L376.6,413.9"/><path d="M381.9,404.3 L386.3,396.2"/><path d="M381.9,404.3 L389.8,404.3"/><path d="M381.9,404.3 L385.9,413.9"/><path d="M389.8,404.3 L393.7,396.5"/><path d="M389.8,404.3 L394.6,412.6"/><path d="M343.4,412.4 L348.2,405.1"/><path d="M343.4,412.4 L353.3,413.7"/><path d="M343.4,412.4 L347.8,420.3"/><path d="M353.3,413.7 L355.4,404.4"/><path d="M353.3,413.7 L360.2,413.9"/><path d="M353.3,413.7 L355.7,420.1"/><path d="M360.2,413.9 L364.3,405.8"/><path d="M360.2,413.9 L369.0,413.4"/><path d="M360.2,413.9 L364.3,421.2"/><path d="M369.0,413.4 L373.5,404.3"/><path d="M369.0,413.4 L376.6,413.9"/><path d="M369.0,413.4 L372.0,421.4"/><path d="M376.6,413.9 L385.9,413.9"/><path d="M376.6,413.9 L381.0,420.6"/><path d="M385.9,413.9 L389.8,404.3"/><path d="M385.9,413.9 L394.6,412.6"/><path d="M385.9,413.9 L390.2,421.0"/><path d="M347.8,420.3 L353.3,413.7"/><path d="M347.8,420.3 L355.7,420.1"/><path d="M347.8,420.3 L353.3,428.0"/><path d="M355.7,420.1 L360.2,413.9"/><path d="M355.7,420.1 L364.3,421.2"/><path d="M364.3,421.2 L369.0,413.4"/><path d="M364.3,421.2 L372.0,421.4"/><path d="M364.3,421.2 L367.9,429.6"/><path d="M372.0,421.4 L376.6,413.9"/><path d="M372.0,421.4 L381.0,420.6"/><path d="M372.0,421.4 L376.9,429.2"/><path d="M381.0,420.6 L385.9,413.9"/><path d="M381.0,420.6 L390.2,421.0"/><path d="M381.0,420.6 L384.5,428.1"/><path d="M390.2,421.0 L394.6,412.6"/><path d="M390.2,421.0 L393.2,429.9"/><path d="M344.4,428.1 L347.8,420.3"/><path d="M344.4,428.1 L353.3,428.0"/><path d="M344.4,428.1 L347.5,437.5"/><path d="M353.3,428.0 L355.7,420.1"/><path d="M353.3,428.0 L361.1,429.7"/><path d="M361.1,429.7 L364.3,421.2"/><path d="M361.1,429.7 L367.9,429.6"/><path d="M361.1,429.7 L364.4,436.7"/><path d="M367.9,429.6 L372.0,421.4"/><path d="M367.9,429.6 L376.9,429.2"/><path d="M367.9,429.6 L373.0,437.6"/><path d="M376.9,429.2 L381.0,420.6"/><path d="M376.9,429.2 L384.5,428.1"/><path d="M376.9,429.2 L380.5,437.5"/><path d="M384.5,428.1 L390.2,421.0"/><path d="M384.5,428.1 L393.2,429.9"/><path d="M347.5,437.5 L357.3,437.9"/><path d="M357.3,437.9 L361.1,429.7"/><path d="M357.3,437.9 L364.4,436.7"/><path d="M364.4,436.7 L367.9,429.6"/><path d="M364.4,436.7 L373.0,437.6"/><path d="M373.0,437.6 L376.9,429.2"/><path d="M373.0,437.6 L380.5,437.5"/><path d="M380.5,437.5 L384.5,428.1"/><path d="M380.5,437.5 L390.2,437.7"/><path d="M390.2,437.7 L393.2,429.9"/></g>
<circle cx="344.2" cy="397.5" r="2.4" fill="#3a8fd6"/>
<circle cx="352.9" cy="397.9" r="2.4" fill="#e0322a"/>
<circle cx="361.1" cy="397.8" r="2.4" fill="#e0322a"/>
<circle cx="368.0" cy="396.9" r="2.4" fill="#e0322a"/>
<circle cx="378.1" cy="397.3" r="2.4" fill="#e0322a"/>
<circle cx="386.3" cy="396.2" r="2.4" fill="#e0322a"/>
<circle cx="393.7" cy="396.5" r="2.4" fill="#e0322a"/>
<circle cx="348.2" cy="405.1" r="2.4" fill="#e0322a"/>
<circle cx="355.4" cy="404.4" r="2.4" fill="#e0322a"/>
<circle cx="364.3" cy="405.8" r="2.4" fill="#3a8fd6"/>
<circle cx="373.5" cy="404.3" r="2.4" fill="#3a8fd6"/>
<circle cx="381.9" cy="404.3" r="2.4" fill="#3a8fd6"/>
<circle cx="389.8" cy="404.3" r="2.4" fill="#e0322a"/>
<circle cx="343.4" cy="412.4" r="2.4" fill="#e0322a"/>
<circle cx="353.3" cy="413.7" r="2.4" fill="#3a8fd6"/>
<circle cx="360.2" cy="413.9" r="2.4" fill="#3a8fd6"/>
<circle cx="369.0" cy="413.4" r="2.4" fill="#e0322a"/>
<circle cx="376.6" cy="413.9" r="2.4" fill="#e0322a"/>
<circle cx="385.9" cy="413.9" r="2.4" fill="#e0322a"/>
<circle cx="394.6" cy="412.6" r="2.4" fill="#3a8fd6"/>
<circle cx="347.8" cy="420.3" r="2.4" fill="#e0322a"/>
<circle cx="355.7" cy="420.1" r="2.4" fill="#e0322a"/>
<circle cx="364.3" cy="421.2" r="2.4" fill="#e0322a"/>
<circle cx="372.0" cy="421.4" r="2.4" fill="#e0322a"/>
<circle cx="381.0" cy="420.6" r="2.4" fill="#3a8fd6"/>
<circle cx="390.2" cy="421.0" r="2.4" fill="#e0322a"/>
<circle cx="344.4" cy="428.1" r="2.4" fill="#3a8fd6"/>
<circle cx="353.3" cy="428.0" r="2.4" fill="#e0322a"/>
<circle cx="361.1" cy="429.7" r="2.4" fill="#e0322a"/>
<circle cx="367.9" cy="429.6" r="2.4" fill="#3a8fd6"/>
<circle cx="376.9" cy="429.2" r="2.4" fill="#e0322a"/>
<circle cx="384.5" cy="428.1" r="2.4" fill="#e0322a"/>
<circle cx="393.2" cy="429.9" r="2.4" fill="#e0322a"/>
<circle cx="347.5" cy="437.5" r="2.4" fill="#e0322a"/>
<circle cx="357.3" cy="437.9" r="2.4" fill="#3a8fd6"/>
<circle cx="364.4" cy="436.7" r="2.4" fill="#e0322a"/>
<circle cx="373.0" cy="437.6" r="2.4" fill="#3a8fd6"/>
<circle cx="380.5" cy="437.5" r="2.4" fill="#e0322a"/>
<circle cx="390.2" cy="437.7" r="2.4" fill="#3a8fd6"/>
<rect x="355" y="447" width="28.5" height="34.5" rx="3.5" fill="#fbf5ec" stroke="#4e4640" stroke-width="1.1"/>
<path d="M356,448.5 H382.5 V464 C375,460 363,460 356,464 Z" fill="#e9a338"/>
<g fill="#fff" opacity="0.9"><circle cx="363" cy="462" r="1.6"/><circle cx="366.5" cy="460.5" r="1.7"/><circle cx="370" cy="461.5" r="1.6"/><circle cx="373.5" cy="460.5" r="1.6"/><circle cx="376" cy="462.5" r="1.5"/><circle cx="368" cy="463.5" r="1.5"/></g>
<rect x="354" y="443" width="30.5" height="6" rx="1" fill="#5b5048"/>
<path d="M17.5,436 H64.0 Q66.0,440 66.0,445 V477 Q66.0,484 59.0,484 H22.5 Q15.5,484 15.5,477 V445 Q15.5,440 17.5,436 Z" fill="#fdf8f4" stroke="#a85a40" stroke-width="1.3"/>
<rect x="14.5" y="424" width="52.5" height="13" rx="3" fill="#b9521c"/>
<rect x="15.5" y="431.15" width="50.5" height="3.9" fill="#000" opacity="0.12"/>
<g fill="#b8531e"><path d="M21,451 L37,446 L39,450 L23,456Z"/><path d="M43,450 L53,452 L56,458 L45,457Z"/><path d="M20,461 L35,457 L37,461 L22,465Z"/><path d="M38,461 L52,464 L53,469 L40,467Z"/><path d="M24,472 L41,470 L48,473 L32,477Z"/></g>
<path d="M70,453.3 H108" stroke="#333" stroke-width="0.9"/><circle cx="108.5" cy="453.3" r="1.2" fill="#333"/>
<path d="M114,432 C114,427 172,427 172,432 L169,436 L169,480 C169,485 164,487 158,487 L128,487 C122,487 117,485 117,480 L117,436 Z" fill="#fbf6f5" stroke="#b98a82" stroke-width="1.1"/>
<ellipse cx="143" cy="431.5" rx="28" ry="3.2" fill="none" stroke="#c9a59e" stroke-width="0.8"/>
<path d="M118,456 L168,456 L168,480 C168,484 163,486 158,486 L128,486 C123,486 118,484 118,480 Z" fill="#ead8d5"/>
<g fill="#5a3028"><path d="M128,466 l8,-2 l4,3 l-8,2Z"/><path d="M147,465 l9,-1 l2,3 l-8,2Z"/><path d="M124,474 l8,-1 l3,3 l-8,1Z"/><path d="M139,476 l9,-1 l3,3 l-9,1Z"/><path d="M153,474 l8,0 l2,3 l-8,0Z"/><path d="M130,481 l8,-1 l3,2 l-8,1Z"/></g>
<circle cx="138" cy="448" r="1.2" fill="#b07060" opacity="0.6"/><circle cx="156" cy="452" r="1.2" fill="#b07060" opacity="0.6"/>
<path d="M165,421 L138,465" stroke="#8a6a5a" stroke-width="3.6" stroke-linecap="round"/><path d="M165,421 L138,465" stroke="#e2cbbd" stroke-width="2.2" stroke-linecap="round"/>
<path d="M179,453.3 H212" stroke="#333" stroke-width="0.9"/><circle cx="212.8" cy="454" r="1.2" fill="#333"/>
<path d="M221.6,442 H248.1 Q250.1,446 250.1,451 V470 Q250.1,477 243.1,477 H226.6 Q219.6,477 219.6,470 V451 Q219.6,446 221.6,442 Z" fill="#f7f3f2" stroke="#5e4e4a" stroke-width="1.3"/>
<path d="M221.1,452.3 H248.6 V470 Q248.6,475.5 243.1,475.5 H226.6 Q221.1,475.5 221.1,470 Z" fill="#7b4e3f"/>
<path d="M223.6,455.3 V470" stroke="#ffffff" stroke-width="1.2" opacity="0.35"/>
<rect x="218.6" y="434" width="32.5" height="9" rx="3" fill="#5e3a2e"/>
<rect x="219.6" y="438.95" width="30.5" height="2.6999999999999997" fill="#000" opacity="0.12"/>
<path d="M257.5,442 H284.0 Q286.0,446 286.0,451 V470 Q286.0,477 279.0,477 H262.5 Q255.5,477 255.5,470 V451 Q255.5,446 257.5,442 Z" fill="#f7f3f2" stroke="#5e4e4a" stroke-width="1.3"/>
<path d="M257.0,452.3 H284.5 V470 Q284.5,475.5 279.0,475.5 H262.5 Q257.0,475.5 257.0,470 Z" fill="#7b4e3f"/>
<path d="M259.5,455.3 V470" stroke="#ffffff" stroke-width="1.2" opacity="0.35"/>
<rect x="254.5" y="434" width="32.5" height="9" rx="3" fill="#5e3a2e"/>
<rect x="255.5" y="438.95" width="30.5" height="2.6999999999999997" fill="#000" opacity="0.12"/>
<path d="M292.2,442 H318.7 Q320.7,446 320.7,451 V470 Q320.7,477 313.7,477 H297.2 Q290.2,477 290.2,470 V451 Q290.2,446 292.2,442 Z" fill="#f7f3f2" stroke="#5e4e4a" stroke-width="1.3"/>
<path d="M291.7,452.3 H319.2 V470 Q319.2,475.5 313.7,475.5 H297.2 Q291.7,475.5 291.7,470 Z" fill="#7b4e3f"/>
<path d="M294.2,455.3 V470" stroke="#ffffff" stroke-width="1.2" opacity="0.35"/>
<rect x="289.2" y="434" width="32.5" height="9" rx="3" fill="#5e3a2e"/>
<rect x="290.2" y="438.95" width="30.5" height="2.6999999999999997" fill="#000" opacity="0.12"/>
<g fill="#333" font-weight="bold" font-size="7" text-anchor="middle" font-family="Liberation Sans,Arial,sans-serif"><text x="19" y="293" font-size="7.5">A.</text><text x="19" y="414.5" font-size="7.5">B.</text><text x="60" y="312.3" font-size="6.8" fill="#555">TBOT</text><text x="35.8" y="369.5">ETHANOL+</text><text x="35.3" y="377">ACETIC ACID</text><text x="138.8" y="375.2">Vigourous</text><text x="138.8" y="384">Stirring 15h</text><text x="186.6" y="351.7">Maturity</text><text x="186.6" y="359.5">and</text><text x="186.6" y="367.4">Drying</text><text x="255.6" y="377">Calcination 3h</text><text x="320" y="351.8">Washing</text><text x="320" y="359.6">and Drying</text><text x="40" y="493.3">GO-Biochar</text><text x="146.7" y="493.3">Mix TiO<tspan font-size="4.5">2</tspan></text><text x="146.7" y="501.7">nanoparticles</text><text x="235.9" y="491.2">GBT-5%</text><text x="272.5" y="491.2">GBT-10%</text><text x="306.5" y="491.2">GBT-20%</text><text x="370.8" y="490.7">TiO<tspan font-size="4.5">2</tspan></text><text x="371.7" y="499.3">nanoparticles</text></g>
<path d="M568.0,317.8 C562.9,317.8 557.9,319.5 552.8,321.8 C547.6,324.1 543.0,328.2 537.1,331.5 C531.2,334.8 524.0,337.7 517.5,341.3 C511.0,344.9 503.8,349.2 497.9,353.1 C492.0,357.0 487.2,360.6 482.3,364.8 C477.4,369.0 473.1,374.6 468.5,378.5 C463.9,382.4 459.7,385.4 454.8,388.3 C449.9,391.2 444.1,393.6 439.2,396.2 C434.3,398.8 428.8,401.4 425.5,404.0 C422.2,406.6 420.3,409.2 419.6,411.8 C418.9,414.4 419.2,417.4 421.5,419.7 C423.8,422.0 428.7,423.6 433.3,425.5 C437.9,427.4 443.1,429.8 449.0,431.4 C454.9,433.0 460.4,434.0 468.5,435.3 C476.6,436.6 488.1,438.0 497.9,439.3 C507.7,440.6 517.5,442.2 527.3,443.2 C537.1,444.2 544.7,444.8 556.7,445.1 C568.7,445.4 587.2,445.5 599.2,445.2 C611.2,444.9 618.8,444.0 628.6,443.2 C638.4,442.4 648.5,441.3 658.0,440.3 C667.5,439.3 677.6,438.8 685.4,437.3 C693.2,435.8 699.1,433.0 705.0,431.4 C710.9,429.8 716.9,429.1 720.6,427.5 C724.4,425.9 726.5,423.6 727.5,421.7 C728.5,419.8 728.3,418.8 726.5,415.8 C724.7,412.9 720.3,407.9 716.7,404.0 C713.1,400.1 708.9,395.9 705.0,392.3 C701.1,388.7 698.1,385.4 693.2,382.5 C688.3,379.6 681.5,377.6 675.6,374.6 C669.7,371.7 663.5,368.4 658.0,364.8 C652.5,361.2 647.2,356.0 642.3,353.1 C637.4,350.2 633.2,349.2 628.6,347.2 C624.0,345.2 619.7,343.9 614.8,341.3 C609.9,338.7 604.4,334.8 599.2,331.5 C594.0,328.2 588.7,324.1 583.5,321.8 C578.3,319.5 573.1,317.8 568.0,317.8Z" fill="#363636" stroke="#181818" stroke-width="1.6"/>
<clipPath id="gclip"><path d="M568.0,317.8 C562.9,317.8 557.9,319.5 552.8,321.8 C547.6,324.1 543.0,328.2 537.1,331.5 C531.2,334.8 524.0,337.7 517.5,341.3 C511.0,344.9 503.8,349.2 497.9,353.1 C492.0,357.0 487.2,360.6 482.3,364.8 C477.4,369.0 473.1,374.6 468.5,378.5 C463.9,382.4 459.7,385.4 454.8,388.3 C449.9,391.2 444.1,393.6 439.2,396.2 C434.3,398.8 428.8,401.4 425.5,404.0 C422.2,406.6 420.3,409.2 419.6,411.8 C418.9,414.4 419.2,417.4 421.5,419.7 C423.8,422.0 428.7,423.6 433.3,425.5 C437.9,427.4 443.1,429.8 449.0,431.4 C454.9,433.0 460.4,434.0 468.5,435.3 C476.6,436.6 488.1,438.0 497.9,439.3 C507.7,440.6 517.5,442.2 527.3,443.2 C537.1,444.2 544.7,444.8 556.7,445.1 C568.7,445.4 587.2,445.5 599.2,445.2 C611.2,444.9 618.8,444.0 628.6,443.2 C638.4,442.4 648.5,441.3 658.0,440.3 C667.5,439.3 677.6,438.8 685.4,437.3 C693.2,435.8 699.1,433.0 705.0,431.4 C710.9,429.8 716.9,429.1 720.6,427.5 C724.4,425.9 726.5,423.6 727.5,421.7 C728.5,419.8 728.3,418.8 726.5,415.8 C724.7,412.9 720.3,407.9 716.7,404.0 C713.1,400.1 708.9,395.9 705.0,392.3 C701.1,388.7 698.1,385.4 693.2,382.5 C688.3,379.6 681.5,377.6 675.6,374.6 C669.7,371.7 663.5,368.4 658.0,364.8 C652.5,361.2 647.2,356.0 642.3,353.1 C637.4,350.2 633.2,349.2 628.6,347.2 C624.0,345.2 619.7,343.9 614.8,341.3 C609.9,338.7 604.4,334.8 599.2,331.5 C594.0,328.2 588.7,324.1 583.5,321.8 C578.3,319.5 573.1,317.8 568.0,317.8Z"/></clipPath><g clip-path="url(#gclip)"><path d="M420,415 C470,420 520,418 560,425 C600,430 660,420 735,412 L735,450 L420,450Z" fill="#2b2b2b" opacity="0.9"/><ellipse cx="520" cy="372" rx="9" ry="4" fill="#444" opacity="0.8"/><ellipse cx="470" cy="402" rx="8" ry="3.5" fill="#444" opacity="0.8"/><ellipse cx="530" cy="395" rx="7" ry="3" fill="#444" opacity="0.8"/><ellipse cx="600" cy="360" rx="10" ry="5" fill="#444" opacity="0.8"/><ellipse cx="580" cy="400" rx="9" ry="4" fill="#444" opacity="0.8"/><ellipse cx="640" cy="376" rx="8" ry="3.5" fill="#444" opacity="0.8"/><ellipse cx="655" cy="408" rx="9" ry="4" fill="#444" opacity="0.8"/><ellipse cx="690" cy="400" rx="7" ry="3" fill="#444" opacity="0.8"/><ellipse cx="560" cy="340" rx="6" ry="3" fill="#444" opacity="0.8"/><ellipse cx="625" cy="420" rx="7" ry="3" fill="#444" opacity="0.8"/><ellipse cx="500" cy="420" rx="8" ry="3" fill="#444" opacity="0.8"/><ellipse cx="529.1" cy="344.3" rx="2.0" ry="0.8" fill="#6a6a6a" opacity="0.7"/><ellipse cx="587.4" cy="364.7" rx="1.1" ry="1.1" fill="#6a6a6a" opacity="0.7"/><ellipse cx="450.3" cy="371.2" rx="1.1" ry="0.9" fill="#6a6a6a" opacity="0.7"/><ellipse cx="556.7" cy="408.6" rx="1.2" ry="0.9" fill="#6a6a6a" opacity="0.7"/><ellipse cx="612.5" cy="420.0" rx="1.9" ry="1.0" fill="#6a6a6a" opacity="0.7"/><ellipse cx="708.5" cy="334.4" rx="2.4" ry="1.0" fill="#6a6a6a" opacity="0.7"/><ellipse cx="479.7" cy="341.2" rx="1.5" ry="1.3" fill="#6a6a6a" opacity="0.7"/><ellipse cx="489.7" cy="385.3" rx="2.0" ry="1.0" fill="#6a6a6a" opacity="0.7"/><ellipse cx="590.6" cy="336.0" rx="1.1" ry="0.9" fill="#6a6a6a" opacity="0.7"/><ellipse cx="627.1" cy="370.6" rx="1.5" ry="1.2" fill="#6a6a6a" opacity="0.7"/><ellipse cx="564.6" cy="358.5" rx="2.3" ry="1.2" fill="#6a6a6a" opacity="0.7"/><ellipse cx="507.1" cy="384.6" rx="1.8" ry="1.3" fill="#6a6a6a" opacity="0.7"/><ellipse cx="640.6" cy="357.4" rx="2.6" ry="0.9" fill="#6a6a6a" opacity="0.7"/><ellipse cx="555.0" cy="401.9" rx="1.2" ry="1.1" fill="#6a6a6a" opacity="0.7"/><ellipse cx="450.8" cy="393.5" rx="2.2" ry="1.1" fill="#6a6a6a" opacity="0.7"/><ellipse cx="680.8" cy="359.8" rx="2.1" ry="1.2" fill="#6a6a6a" opacity="0.7"/><ellipse cx="599.5" cy="373.3" rx="2.3" ry="1.4" fill="#6a6a6a" opacity="0.7"/><ellipse cx="570.4" cy="393.1" rx="1.1" ry="1.2" fill="#6a6a6a" opacity="0.7"/><ellipse cx="618.0" cy="424.3" rx="2.3" ry="1.0" fill="#6a6a6a" opacity="0.7"/><ellipse cx="546.1" cy="393.5" rx="1.0" ry="1.1" fill="#6a6a6a" opacity="0.7"/><ellipse cx="486.2" cy="341.1" rx="1.1" ry="1.3" fill="#6a6a6a" opacity="0.7"/><ellipse cx="475.6" cy="353.5" rx="1.6" ry="1.3" fill="#6a6a6a" opacity="0.7"/><ellipse cx="462.2" cy="372.7" rx="1.9" ry="1.3" fill="#6a6a6a" opacity="0.7"/><ellipse cx="665.3" cy="412.1" rx="1.4" ry="1.0" fill="#6a6a6a" opacity="0.7"/><ellipse cx="538.7" cy="414.0" rx="2.5" ry="0.9" fill="#6a6a6a" opacity="0.7"/><ellipse cx="488.5" cy="352.0" rx="1.4" ry="1.1" fill="#6a6a6a" opacity="0.7"/><ellipse cx="602.0" cy="355.0" rx="1.0" ry="1.1" fill="#6a6a6a" opacity="0.7"/><ellipse cx="541.5" cy="383.8" rx="2.5" ry="1.2" fill="#6a6a6a" opacity="0.7"/><ellipse cx="581.8" cy="388.7" rx="2.1" ry="0.8" fill="#6a6a6a" opacity="0.7"/><ellipse cx="687.4" cy="404.1" rx="2.4" ry="1.3" fill="#6a6a6a" opacity="0.7"/><ellipse cx="547.9" cy="367.9" rx="1.2" ry="1.2" fill="#6a6a6a" opacity="0.7"/><ellipse cx="457.1" cy="336.4" rx="1.3" ry="0.9" fill="#6a6a6a" opacity="0.7"/><ellipse cx="533.5" cy="335.0" rx="1.0" ry="0.9" fill="#6a6a6a" opacity="0.7"/><ellipse cx="467.9" cy="364.5" rx="1.0" ry="1.3" fill="#6a6a6a" opacity="0.7"/><ellipse cx="608.9" cy="344.1" rx="1.4" ry="1.0" fill="#6a6a6a" opacity="0.7"/><ellipse cx="540.1" cy="341.7" rx="2.4" ry="1.4" fill="#6a6a6a" opacity="0.7"/><ellipse cx="568.1" cy="376.0" rx="1.1" ry="0.9" fill="#6a6a6a" opacity="0.7"/><ellipse cx="534.2" cy="355.2" rx="2.3" ry="0.9" fill="#6a6a6a" opacity="0.7"/><ellipse cx="446.4" cy="420.3" rx="1.8" ry="0.9" fill="#6a6a6a" opacity="0.7"/><ellipse cx="589.4" cy="332.6" rx="1.8" ry="1.4" fill="#6a6a6a" opacity="0.7"/><ellipse cx="677.4" cy="396.1" rx="1.4" ry="1.0" fill="#6a6a6a" opacity="0.7"/><ellipse cx="485.9" cy="403.3" rx="1.9" ry="1.3" fill="#6a6a6a" opacity="0.7"/><ellipse cx="530.7" cy="351.2" rx="2.3" ry="1.4" fill="#6a6a6a" opacity="0.7"/><ellipse cx="674.5" cy="406.6" rx="2.3" ry="1.2" fill="#6a6a6a" opacity="0.7"/><ellipse cx="502.4" cy="379.2" rx="1.6" ry="0.8" fill="#6a6a6a" opacity="0.7"/></g>
<path d="M568.0,317.8 C562.9,317.8 557.9,319.5 552.8,321.8 C547.6,324.1 543.0,328.2 537.1,331.5 C531.2,334.8 524.0,337.7 517.5,341.3 C511.0,344.9 503.8,349.2 497.9,353.1 C492.0,357.0 487.2,360.6 482.3,364.8 C477.4,369.0 473.1,374.6 468.5,378.5 C463.9,382.4 459.7,385.4 454.8,388.3 C449.9,391.2 444.1,393.6 439.2,396.2 C434.3,398.8 428.8,401.4 425.5,404.0 C422.2,406.6 420.3,409.2 419.6,411.8 C418.9,414.4 419.2,417.4 421.5,419.7 C423.8,422.0 428.7,423.6 433.3,425.5 C437.9,427.4 443.1,429.8 449.0,431.4 C454.9,433.0 460.4,434.0 468.5,435.3 C476.6,436.6 488.1,438.0 497.9,439.3 C507.7,440.6 517.5,442.2 527.3,443.2 C537.1,444.2 544.7,444.8 556.7,445.1 C568.7,445.4 587.2,445.5 599.2,445.2 C611.2,444.9 618.8,444.0 628.6,443.2 C638.4,442.4 648.5,441.3 658.0,440.3 C667.5,439.3 677.6,438.8 685.4,437.3 C693.2,435.8 699.1,433.0 705.0,431.4 C710.9,429.8 716.9,429.1 720.6,427.5 C724.4,425.9 726.5,423.6 727.5,421.7 C728.5,419.8 728.3,418.8 726.5,415.8 C724.7,412.9 720.3,407.9 716.7,404.0 C713.1,400.1 708.9,395.9 705.0,392.3 C701.1,388.7 698.1,385.4 693.2,382.5 C688.3,379.6 681.5,377.6 675.6,374.6 C669.7,371.7 663.5,368.4 658.0,364.8 C652.5,361.2 647.2,356.0 642.3,353.1 C637.4,350.2 633.2,349.2 628.6,347.2 C624.0,345.2 619.7,343.9 614.8,341.3 C609.9,338.7 604.4,334.8 599.2,331.5 C594.0,328.2 588.7,324.1 583.5,321.8 C578.3,319.5 573.1,317.8 568.0,317.8Z" fill="none" stroke="#181818" stroke-width="1.6"/>
<ellipse cx="406.9" cy="418.7" rx="3" ry="2.2" fill="#333" stroke="#151515" stroke-width="1"/>
<ellipse cx="422.5" cy="431.4" rx="5" ry="3" fill="#333" stroke="#151515" stroke-width="1"/>
<ellipse cx="452.9" cy="449" rx="6" ry="4" fill="#333" stroke="#151515" stroke-width="1"/>
<ellipse cx="479.3" cy="445.1" rx="13" ry="6" fill="#333" stroke="#151515" stroke-width="1"/>
<ellipse cx="502.8" cy="451" rx="9" ry="4" fill="#333" stroke="#151515" stroke-width="1"/>
<ellipse cx="541" cy="448" rx="5" ry="3" fill="#333" stroke="#151515" stroke-width="1"/>
<ellipse cx="553.7" cy="455.9" rx="3" ry="2.5" fill="#333" stroke="#151515" stroke-width="1"/>
<ellipse cx="609" cy="456" rx="5" ry="3.5" fill="#333" stroke="#151515" stroke-width="1"/>
<ellipse cx="648.1" cy="449.1" rx="15" ry="6" fill="#333" stroke="#151515" stroke-width="1"/>
<ellipse cx="669.7" cy="454" rx="3" ry="2.5" fill="#333" stroke="#151515" stroke-width="1"/>
<ellipse cx="659" cy="459.9" rx="2.5" ry="2" fill="#333" stroke="#151515" stroke-width="1"/>
<ellipse cx="707" cy="448" rx="2" ry="1.6" fill="#333" stroke="#151515" stroke-width="1"/>
<ellipse cx="726.5" cy="437.3" rx="7" ry="4" fill="#333" stroke="#151515" stroke-width="1"/>
<ellipse cx="742.2" cy="423.6" rx="5" ry="3.5" fill="#333" stroke="#151515" stroke-width="1"/>
<ellipse cx="734.3" cy="417.7" rx="1.5" ry="1.5" fill="#333" stroke="#151515" stroke-width="1"/>
<ellipse cx="423.5" cy="441.2" rx="1.5" ry="1.5" fill="#333" stroke="#151515" stroke-width="1"/>
<circle cx="415.7" cy="412" r="1" fill="#222"/>
<circle cx="414.7" cy="423.6" r="1" fill="#222"/>
<circle cx="435" cy="431.4" r="1" fill="#222"/>
<circle cx="446" cy="437.3" r="1" fill="#222"/>
<circle cx="496" cy="443" r="1" fill="#222"/>
<circle cx="525" cy="451" r="1" fill="#222"/>
<circle cx="487" cy="457" r="1" fill="#222"/>
<circle cx="590" cy="448" r="1" fill="#222"/>
<circle cx="620" cy="452" r="1" fill="#222"/>
<circle cx="680" cy="446" r="1" fill="#222"/>
<circle cx="700" cy="452" r="1" fill="#222"/>
<circle cx="738" cy="436" r="1" fill="#222"/>
<circle cx="745" cy="440" r="1" fill="#222"/>
<circle cx="716" cy="442" r="1" fill="#222"/>
<circle cx="540" cy="459" r="1" fill="#222"/>
<circle cx="575" cy="452" r="1" fill="#222"/>
<filter id="gblur" x="-20%" y="-50%" width="140%" height="200%"><feGaussianBlur stdDeviation="4"/></filter>
<path d="M926,353 L1087,280 L1112,266 C1117,266 1118,285 1113,292 L1005,348 C985,358 962,364 940,362 Z" fill="#dceaf7" filter="url(#gblur)"/>
<path d="M927.4,318 L1087.5,250.5 L1080.5,280.3 L927.4,348.5 Z" fill="#262a80"/>
<path d="M932,326 L1076,263" stroke="#4145d6" stroke-width="8" stroke-linecap="round"/>
<path d="M932,324 L1076,261" stroke="#7074ee" stroke-width="2" stroke-linecap="round" opacity="0.8"/>
<path d="M932,339.5 L1073,277" stroke="#4145d6" stroke-width="8" stroke-linecap="round"/>
<path d="M932,337.5 L1073,275" stroke="#7074ee" stroke-width="2" stroke-linecap="round" opacity="0.8"/>
<ellipse cx="931" cy="326.5" rx="3.5" ry="4" fill="#dfe3ea"/><ellipse cx="931" cy="340" rx="3.5" ry="4" fill="#dfe3ea"/>
<ellipse cx="1077" cy="262.5" rx="3.5" ry="4" fill="#dfe3ea"/><ellipse cx="1074" cy="276.5" rx="3.5" ry="4" fill="#dfe3ea"/>
<path d="M912.5,313.5 L1070,244.4 L1087.5,250.5 L927.4,318 Z" fill="#747474"/>
<path d="M998,280 L1024,269" stroke="#3a3a3a" stroke-width="3" stroke-linecap="round"/>
<path d="M902,318.8 L912.5,313.5 L927.4,317.9 L925.6,352 L917.8,352.9 L900.3,339.8 Z" fill="#3d3d3d"/>
<path d="M912.5,313.5 L927.4,317.9 L925.6,352 L917.8,352.9 Z" fill="#555"/>
<path d="M1070,244.4 L1096.3,245.3 L1087.5,280.3 L1080.5,280.3 L1087.5,250.5 Z" fill="#3d3d3d"/>
<path d="M1057.7,320.5 C1050.7,320.6 1039.6,322.9 1032.0,326.3 C1024.4,329.7 1017.6,336.6 1012.0,341.0 C1006.4,345.4 1003.8,347.5 998.3,352.7 C992.8,357.9 984.0,366.9 978.8,372.3 C973.6,377.7 971.4,380.9 967.0,385.0 C962.6,389.1 956.9,393.5 952.3,396.8 C947.7,400.1 942.7,402.3 939.6,404.6 C936.5,406.9 934.9,408.2 933.7,410.5 C932.6,412.8 931.1,415.6 932.7,418.3 C934.3,421.0 935.7,423.6 943.3,426.7 C950.9,429.8 964.7,434.3 978.3,437.2 C991.9,440.1 1011.9,442.6 1025.0,444.2 C1038.1,445.8 1045.9,446.1 1057.0,446.5 C1068.1,446.9 1080.0,446.8 1091.4,446.5 C1102.9,446.2 1114.3,446.1 1125.7,445.0 C1137.1,443.9 1151.5,442.1 1160.0,440.2 C1168.5,438.2 1172.2,435.6 1177.0,433.3 C1181.8,431.0 1186.6,428.8 1189.0,426.5 C1191.4,424.2 1192.2,422.2 1191.6,419.6 C1191.0,417.0 1188.3,414.4 1185.6,411.0 C1182.9,407.6 1178.7,403.1 1175.3,399.1 C1171.9,395.1 1169.0,390.8 1165.0,387.1 C1161.0,383.4 1156.1,380.0 1151.3,376.8 C1146.5,373.6 1140.3,371.1 1136.0,368.2 C1131.7,365.3 1129.7,362.7 1125.7,359.7 C1121.7,356.7 1116.3,352.9 1112.0,350.3 C1107.7,347.7 1104.0,346.7 1100.0,344.3 C1096.0,341.9 1092.3,338.9 1088.0,335.7 C1083.7,332.5 1079.3,327.9 1074.3,325.4 C1069.2,322.9 1064.8,320.4 1057.7,320.5Z" fill="#a98b6f" stroke="#8d7157" stroke-width="1.2"/>
<clipPath id="sclip"><path d="M1057.7,320.5 C1050.7,320.6 1039.6,322.9 1032.0,326.3 C1024.4,329.7 1017.6,336.6 1012.0,341.0 C1006.4,345.4 1003.8,347.5 998.3,352.7 C992.8,357.9 984.0,366.9 978.8,372.3 C973.6,377.7 971.4,380.9 967.0,385.0 C962.6,389.1 956.9,393.5 952.3,396.8 C947.7,400.1 942.7,402.3 939.6,404.6 C936.5,406.9 934.9,408.2 933.7,410.5 C932.6,412.8 931.1,415.6 932.7,418.3 C934.3,421.0 935.7,423.6 943.3,426.7 C950.9,429.8 964.7,434.3 978.3,437.2 C991.9,440.1 1011.9,442.6 1025.0,444.2 C1038.1,445.8 1045.9,446.1 1057.0,446.5 C1068.1,446.9 1080.0,446.8 1091.4,446.5 C1102.9,446.2 1114.3,446.1 1125.7,445.0 C1137.1,443.9 1151.5,442.1 1160.0,440.2 C1168.5,438.2 1172.2,435.6 1177.0,433.3 C1181.8,431.0 1186.6,428.8 1189.0,426.5 C1191.4,424.2 1192.2,422.2 1191.6,419.6 C1191.0,417.0 1188.3,414.4 1185.6,411.0 C1182.9,407.6 1178.7,403.1 1175.3,399.1 C1171.9,395.1 1169.0,390.8 1165.0,387.1 C1161.0,383.4 1156.1,380.0 1151.3,376.8 C1146.5,373.6 1140.3,371.1 1136.0,368.2 C1131.7,365.3 1129.7,362.7 1125.7,359.7 C1121.7,356.7 1116.3,352.9 1112.0,350.3 C1107.7,347.7 1104.0,346.7 1100.0,344.3 C1096.0,341.9 1092.3,338.9 1088.0,335.7 C1083.7,332.5 1079.3,327.9 1074.3,325.4 C1069.2,322.9 1064.8,320.4 1057.7,320.5Z"/></clipPath><g clip-path="url(#sclip)"><path d="M1057.7,321.0 C1051.4,320.5 1039.6,323.6 1032.0,327.0 C1024.4,330.4 1017.6,337.2 1012.0,341.5 C1006.4,345.8 1003.8,347.8 998.3,353.0 C992.8,358.2 984.0,367.2 978.8,372.6 C973.6,378.0 971.4,381.2 967.0,385.3 C962.6,389.4 956.9,393.7 952.3,397.0 C947.7,400.3 942.6,402.2 939.6,405.0 C936.6,407.8 930.6,411.5 934.0,414.0 C937.4,416.5 949.0,418.3 960.0,420.0 C971.0,421.7 985.0,423.0 1000.0,424.0 C1015.0,425.0 1035.8,426.7 1050.0,426.0 C1064.2,425.3 1078.3,424.3 1085.0,420.0 C1091.7,415.7 1090.0,407.5 1090.0,400.0 C1090.0,392.5 1087.0,383.3 1085.0,375.0 C1083.0,366.7 1080.5,357.5 1078.0,350.0 C1075.5,342.5 1073.4,334.8 1070.0,330.0 C1066.6,325.2 1064.0,321.5 1057.7,321.0Z" fill="#b19579"/><path d="M930,428 C980,432 1060,438 1120,432 C1150,428 1180,420 1195,416 L1195,450 L930,450Z" fill="#9c7f64" opacity="0.7"/><path d="M1100,404 C1112,396 1130,400 1127,408 C1118,413 1104,411 1100,404Z" fill="#c0a78b"/><path d="M1140,385 C1150,380 1165,384 1162,390 C1155,394 1143,392 1140,385Z" fill="#c0a78b"/><path d="M1080,360 C1090,355 1104,358 1102,364 C1095,368 1083,366 1080,360Z" fill="#c0a78b"/><ellipse cx="1053.6" cy="391.6" rx="3.8" ry="2.4" fill="#bda387" opacity="0.75"/><ellipse cx="990.6" cy="418.4" rx="4.5" ry="2.3" fill="#bda387" opacity="0.75"/><ellipse cx="967.6" cy="363.4" rx="4.2" ry="2.4" fill="#bda387" opacity="0.75"/><ellipse cx="1097.3" cy="395.5" rx="5.9" ry="2.1" fill="#bda387" opacity="0.75"/><ellipse cx="1092.7" cy="347.3" rx="5.3" ry="1.3" fill="#bda387" opacity="0.75"/><ellipse cx="953.6" cy="426.8" rx="2.1" ry="1.8" fill="#977b60" opacity="0.75"/><ellipse cx="1050.7" cy="422.7" rx="2.9" ry="1.6" fill="#977b60" opacity="0.75"/><ellipse cx="946.1" cy="339.3" rx="3.1" ry="2.6" fill="#977b60" opacity="0.75"/><ellipse cx="1184.0" cy="422.4" rx="3.0" ry="2.3" fill="#977b60" opacity="0.75"/><ellipse cx="1068.1" cy="333.3" rx="5.1" ry="1.8" fill="#977b60" opacity="0.75"/><ellipse cx="1148.2" cy="372.5" rx="5.4" ry="1.2" fill="#bda387" opacity="0.75"/><ellipse cx="995.3" cy="430.1" rx="3.5" ry="2.2" fill="#bda387" opacity="0.75"/><ellipse cx="1045.7" cy="392.3" rx="5.1" ry="1.6" fill="#bda387" opacity="0.75"/><ellipse cx="965.9" cy="366.6" rx="5.0" ry="1.4" fill="#bda387" opacity="0.75"/><ellipse cx="1004.1" cy="341.1" rx="3.9" ry="1.9" fill="#bda387" opacity="0.75"/><ellipse cx="1108.7" cy="350.7" rx="2.8" ry="2.2" fill="#977b60" opacity="0.75"/><ellipse cx="976.4" cy="400.8" rx="3.6" ry="2.6" fill="#bda387" opacity="0.75"/><ellipse cx="945.1" cy="425.1" rx="3.2" ry="2.4" fill="#977b60" opacity="0.75"/><ellipse cx="995.6" cy="373.4" rx="4.6" ry="1.3" fill="#977b60" opacity="0.75"/><ellipse cx="1182.4" cy="353.5" rx="2.0" ry="2.1" fill="#bda387" opacity="0.75"/><ellipse cx="1144.3" cy="372.5" rx="2.4" ry="2.0" fill="#bda387" opacity="0.75"/><ellipse cx="1003.3" cy="396.1" rx="4.5" ry="1.4" fill="#bda387" opacity="0.75"/><ellipse cx="1085.9" cy="421.6" rx="5.5" ry="1.5" fill="#bda387" opacity="0.75"/><ellipse cx="982.0" cy="429.9" rx="3.0" ry="1.5" fill="#977b60" opacity="0.75"/><ellipse cx="1122.5" cy="433.4" rx="4.7" ry="1.7" fill="#bda387" opacity="0.75"/><ellipse cx="1060.8" cy="338.6" rx="2.4" ry="1.3" fill="#bda387" opacity="0.75"/><ellipse cx="1176.0" cy="356.2" rx="3.6" ry="1.8" fill="#977b60" opacity="0.75"/><ellipse cx="1162.2" cy="384.0" rx="2.7" ry="2.2" fill="#977b60" opacity="0.75"/><ellipse cx="961.5" cy="355.1" rx="4.6" ry="2.1" fill="#977b60" opacity="0.75"/><ellipse cx="962.8" cy="353.4" rx="5.0" ry="1.3" fill="#bda387" opacity="0.75"/><ellipse cx="1043.7" cy="357.4" rx="2.7" ry="1.7" fill="#bda387" opacity="0.75"/><ellipse cx="1082.3" cy="344.5" rx="2.6" ry="1.8" fill="#bda387" opacity="0.75"/><ellipse cx="1024.4" cy="410.6" rx="4.3" ry="1.4" fill="#977b60" opacity="0.75"/><ellipse cx="953.4" cy="332.0" rx="4.8" ry="2.5" fill="#bda387" opacity="0.75"/><ellipse cx="950.1" cy="400.0" rx="2.3" ry="1.6" fill="#bda387" opacity="0.75"/><ellipse cx="977.8" cy="338.0" rx="4.2" ry="2.2" fill="#bda387" opacity="0.75"/><ellipse cx="1161.0" cy="411.1" rx="2.5" ry="2.5" fill="#977b60" opacity="0.75"/><ellipse cx="1027.0" cy="339.3" rx="5.6" ry="2.4" fill="#bda387" opacity="0.75"/><ellipse cx="1045.1" cy="417.0" rx="4.3" ry="2.1" fill="#bda387" opacity="0.75"/><ellipse cx="1036.8" cy="394.1" rx="2.3" ry="1.3" fill="#977b60" opacity="0.75"/></g>
<ellipse cx="983" cy="445.3" rx="10" ry="6" fill="#a1846a"/>
<ellipse cx="1002.8" cy="451" rx="7" ry="4" fill="#a1846a"/>
<ellipse cx="960.8" cy="450" rx="5" ry="3.5" fill="#a1846a"/>
<ellipse cx="1123" cy="450" rx="12" ry="6" fill="#a1846a"/>
<ellipse cx="1190.7" cy="438.3" rx="6" ry="4" fill="#a1846a"/>
<ellipse cx="934" cy="432.5" rx="5" ry="3" fill="#a1846a"/>
<ellipse cx="922.3" cy="419.7" rx="2.5" ry="2" fill="#a1846a"/>
<ellipse cx="1092.7" cy="457" rx="3" ry="2.5" fill="#a1846a"/>
<ellipse cx="1046" cy="458" rx="3" ry="2.5" fill="#a1846a"/>
<ellipse cx="1032" cy="447.7" rx="3" ry="2" fill="#a1846a"/>
<ellipse cx="1144" cy="447.7" rx="2.5" ry="2" fill="#a1846a"/>
<ellipse cx="1165" cy="452" rx="2" ry="1.5" fill="#a1846a"/>
<ellipse cx="1010" cy="460" rx="1.6" ry="1.4" fill="#a1846a"/>
<ellipse cx="950" cy="444" rx="1.6" ry="1.4" fill="#a1846a"/>
<ellipse cx="1070" cy="452" rx="1.5" ry="1.3" fill="#a1846a"/>
<circle cx="956.2" cy="437.7" r="0.8" fill="#9a7d62"/>
<circle cx="1014.1" cy="458.0" r="1.0" fill="#9a7d62"/>
<circle cx="1048.6" cy="443.9" r="0.9" fill="#9a7d62"/>
<circle cx="1065.0" cy="445.4" r="0.8" fill="#9a7d62"/>
<circle cx="948.7" cy="430.7" r="1.2" fill="#9a7d62"/>
<circle cx="955.5" cy="453.4" r="1.0" fill="#9a7d62"/>
<circle cx="1056.3" cy="456.9" r="0.8" fill="#9a7d62"/>
<circle cx="963.7" cy="448.4" r="0.9" fill="#9a7d62"/>
<circle cx="1128.5" cy="440.3" r="1.2" fill="#9a7d62"/>
<circle cx="1059.5" cy="437.2" r="0.8" fill="#9a7d62"/>
<circle cx="992.7" cy="449.0" r="1.1" fill="#9a7d62"/>
<circle cx="1128.8" cy="436.0" r="0.7" fill="#9a7d62"/>
<circle cx="984.3" cy="457.6" r="0.7" fill="#9a7d62"/>
<circle cx="961.3" cy="440.5" r="1.1" fill="#9a7d62"/>
<path d="M988.5,330.3 C989.2,330.9 990.5,332.2 992.5,333.6 C994.5,335.1 998.6,337.0 1000.6,339.0 C1002.6,341.0 1004.0,342.9 1004.6,345.8 C1005.2,348.7 1003.5,353.4 1004.0,356.5 C1004.5,359.6 1005.4,362.4 1007.3,364.6 C1009.2,366.9 1013.4,367.8 1015.4,370.0 C1017.4,372.2 1018.4,374.9 1019.4,378.0 C1020.4,381.1 1020.8,386.1 1021.4,388.8 C1022.0,391.5 1022.7,393.1 1023.0,394.0" stroke="#2e78b6" stroke-width="5" fill="none" stroke-linecap="round"/>
<path d="M1026.8,401.6 L1017.0,394.2 L1026.8,389.3 Z" fill="#2e78b6"/>
<path d="M1004.0,321.5 C1004.7,322.2 1006.1,324.2 1008.0,325.6 C1009.9,327.0 1013.5,327.4 1015.4,329.6 C1017.3,331.8 1018.7,335.6 1019.4,339.0 C1020.1,342.4 1018.5,346.9 1019.4,349.8 C1020.3,352.7 1022.8,354.7 1024.8,356.5 C1026.8,358.3 1029.7,358.4 1031.5,360.6 C1033.3,362.9 1034.7,366.6 1035.6,370.0 C1036.5,373.4 1036.4,378.1 1036.9,380.8 C1037.4,383.6 1038.2,385.6 1038.5,386.5" stroke="#2e78b6" stroke-width="5" fill="none" stroke-linecap="round"/>
<path d="M1042.3,393.5 L1032.2,386.5 L1041.9,381.2 Z" fill="#2e78b6"/>
<path d="M1019.4,312.8 C1020.3,313.4 1022.8,314.8 1024.8,316.2 C1026.8,317.6 1029.9,319.0 1031.5,321.5 C1033.1,324.0 1033.8,327.9 1034.2,331.0 C1034.7,334.1 1033.3,337.7 1034.2,340.4 C1035.1,343.1 1037.3,345.2 1039.6,347.0 C1041.8,348.8 1045.9,348.7 1047.7,351.0 C1049.5,353.3 1049.7,357.2 1050.4,360.6 C1051.1,364.0 1051.1,368.4 1051.7,371.3 C1052.3,374.2 1053.6,376.9 1054.0,378.0" stroke="#2e78b6" stroke-width="5" fill="none" stroke-linecap="round"/>
<path d="M1058.4,385.5 L1048.1,378.8 L1057.6,373.2 Z" fill="#2e78b6"/>
<path d="M750.1,614.1 L774.9,602.2 L799.6,614.1 M750.1,634.4 L774.9,645.6 L799.6,634.4 M799.6,614.1 L825,602.2 L850.3,614.1 M799.6,634.4 L825,645.6 L850.3,634.4 M850.3,614.1 L875.6,602.2 L900.9,614.1 M850.3,634.4 L875.6,645.6 L900.9,634.4 M900.9,614.1 L925.6,602.2 L951.5,614.1 M900.9,634.4 L925.6,645.6 L951.5,634.4 M750.1,614.1 V634.4 M799.6,614.1 V634.4 M850.3,614.1 V634.4 M900.9,614.1 V634.4 M951.5,614.1 V634.4 M754.8,617 V631.5 M778,606.5 L795.5,615 M778,641.3 L795.5,633 M855,617.5 L873.5,608.5 M946.8,617 V631.5 M774.9,602.2 V587 M823.2,602.2 V587 M826.8,602.2 V587 M875.6,602.2 V587 M923.8,602.2 V587 M927.4,602.2 V587 M951.5,614.1 L976,602.2 L995,611 M974.2,602.2 V587 M977.8,602.2 V587 M951.5,634.4 L967,642 M825,645.6 L814,658 M925.6,645.6 V660 M921,670 L901,679 M930,670 L951,679 " stroke="#8781c2" stroke-width="1.5" fill="none"/>
<path d="M825,645.6 L835.9,664.6 L840.1,661.4 Z" fill="#2e2a72"/>
<path d="M850.3,634.4 L847.7,652.0 L852.9,652.0 Z" fill="#2e2a72"/>
<path d="M875.6,645.6 L873.0,661.0 L878.2,661.0 Z" fill="#2e2a72"/>
<path d="M900.9,634.4 L898.3,652.0 L903.5,652.0 Z" fill="#2e2a72"/>
<path d="M925.6,645.6 L923.0,661.0 L928.2,661.0 Z" fill="#2e2a72"/>
<path d="M900.9,614.1 L903.1,596.0 L898.7,596.0 Z" fill="#2e2a72"/>
<g fill="#2e2a72" font-size="12.3" font-family="Liberation Sans,Arial,sans-serif" text-anchor="middle"><text x="781.5" y="584.4" textLength="27" lengthAdjust="spacingAndGlyphs">OH</text><text x="825.3" y="584.4" textLength="12.5" lengthAdjust="spacingAndGlyphs">O</text><text x="868.7" y="584.4" textLength="27" lengthAdjust="spacingAndGlyphs">HO</text><text x="900.3" y="584.4" textLength="10.6" lengthAdjust="spacingAndGlyphs">H</text><text x="900.6" y="596" textLength="12.5" lengthAdjust="spacingAndGlyphs">O</text><text x="925.6" y="584.4" textLength="12.5" lengthAdjust="spacingAndGlyphs">O</text><text x="976" y="584.4" textLength="12.5" lengthAdjust="spacingAndGlyphs">O</text><text x="984" y="652" textLength="27" lengthAdjust="spacingAndGlyphs">OH</text><text x="806" y="670" textLength="27" lengthAdjust="spacingAndGlyphs">HO</text><text x="850.5" y="663.5" textLength="10.6" lengthAdjust="spacingAndGlyphs">H</text><text x="875.6" y="671.5" textLength="12.5" lengthAdjust="spacingAndGlyphs">O</text><text x="875.6" y="685" textLength="10.6" lengthAdjust="spacingAndGlyphs">H</text><text x="900.9" y="663.5" textLength="10.6" lengthAdjust="spacingAndGlyphs">H</text><text x="925.6" y="672" textLength="11.5" lengthAdjust="spacingAndGlyphs">N</text><text x="995.5" y="619.5" text-anchor="start" textLength="25" lengthAdjust="spacingAndGlyphs">NH</text><text x="1020.5" y="622.5" text-anchor="start" font-size="9" textLength="7" lengthAdjust="spacingAndGlyphs">2</text></g>
<circle cx="871" cy="658" r="53" fill="none" stroke="#e0452f" stroke-width="2.4" stroke-dasharray="6 5"/>
<circle cx="951.7" cy="594.5" r="53" fill="none" stroke="#e0452f" stroke-width="2.4" stroke-dasharray="6 5"/>
<circle cx="1018" cy="640" r="52" fill="none" stroke="#e0452f" stroke-width="2.4" stroke-dasharray="6 5"/>
<path d="M1090.6,552.3 L1119.8,567.9 L1119.8,599 L1090.6,613.6 L1061.3999999999999,599 L1061.3999999999999,567.9 ZM1149.9,552.3 L1179.1000000000001,567.9 L1179.1000000000001,599 L1149.9,613.6 L1120.7,599 L1120.7,567.9 Z M1066,571 L1089,558.5 M1066,596 L1089,608 M1115.5,572 V595 M1153,558.5 L1175,570 M1153,608 L1175,596" stroke="#e690a0" stroke-width="1.4" fill="none"/>
<text x="1122.7" y="591.2" text-anchor="middle" font-size="14" font-weight="bold" fill="#b0302e" textLength="85.5" lengthAdjust="spacingAndGlyphs">π-π stacking</text>
<path d="M1100,672 L1106,664" stroke="#7a2020" stroke-width="1.2"/>
<polygon points="1085.0,662.2 1088.6,673.2 1097.5,665.0 1094.9,676.1 1107.2,672.5 1099.0,681.3 1111.8,683.1 1099.9,687.6 1110.2,694.4 1097.3,693.5 1102.9,703.8 1092.0,697.7 1091.5,709.1 1085.0,699.2 1078.5,709.1 1078.0,697.7 1067.1,703.8 1072.7,693.5 1059.8,694.4 1070.1,687.6 1058.2,683.1 1071.0,681.3 1062.8,672.5 1075.1,676.1 1072.5,665.0 1081.4,673.2" fill="#cc4a4c"/>
<text x="1084.5" y="690" text-anchor="middle" font-size="8" font-weight="bold" fill="#fff">ROS</text>
<circle cx="1113.5" cy="643.3" r="25.3" fill="#d05656" stroke="#8c2020" stroke-width="2"/>
<circle cx="1167" cy="670.3" r="25.8" fill="#d05656" stroke="#8c2020" stroke-width="2"/>
<text x="1113" y="652" text-anchor="middle" font-size="24" font-weight="bold" fill="#fff" textLength="34.2" lengthAdjust="spacingAndGlyphs">OH</text>
<circle cx="1093.3" cy="635.5" r="1.6" fill="#fff"/>
<text x="1153" y="677" font-size="23" font-weight="bold" fill="#fff">O</text>
<text x="1165" y="682.5" font-size="19" font-weight="bold" fill="#fff">2</text>
<rect x="1172.5" y="651" width="7" height="2" fill="#fff"/>
<circle cx="1150" cy="659.4" r="1.6" fill="#fff"/>

<g font-weight="bold">
<text x="197.5" y="216" text-anchor="middle" font-size="23" fill="#111" textLength="251" lengthAdjust="spacingAndGlyphs">Emerging Contaminants</text>
<text x="288.5" y="118" text-anchor="middle" font-size="23" class="red" textLength="42" lengthAdjust="spacingAndGlyphs">ENR</text>
<text x="288.5" y="146.8" text-anchor="middle" font-size="23" class="red" textLength="47.5" lengthAdjust="spacingAndGlyphs">SMX</text>
<text x="288.5" y="175.6" text-anchor="middle" font-size="23" class="red" textLength="42.5" lengthAdjust="spacingAndGlyphs">OTC</text>
<text x="468.5" y="233" text-anchor="middle" font-size="23" class="red" textLength="172" lengthAdjust="spacingAndGlyphs">Veterinary Drugs</text>
<text x="634.4" y="21.6" text-anchor="middle" font-size="22.5" class="red" textLength="68" lengthAdjust="spacingAndGlyphs">Before</text>
<text x="634.8" y="51.2" text-anchor="middle" font-size="22.5" class="red" textLength="100" lengthAdjust="spacingAndGlyphs">treatment</text>
<text x="764.3" y="21.6" text-anchor="middle" font-size="22.5" class="red" textLength="52" lengthAdjust="spacingAndGlyphs">After</text>
<text x="764" y="51.2" text-anchor="middle" font-size="22.5" class="red" textLength="100.8" lengthAdjust="spacingAndGlyphs">treatment</text>
<text x="798.5" y="276" text-anchor="middle" font-size="22.5" fill="#4ab2b8" textLength="79" lengthAdjust="spacingAndGlyphs">GBT 5%</text>
<text x="798.4" y="334.8" text-anchor="middle" font-size="22.5" fill="#1f5a9d" textLength="91" lengthAdjust="spacingAndGlyphs">GBT 10%</text>
<text x="798.4" y="401.2" text-anchor="middle" font-size="22.5" fill="#f3b53f" textLength="91" lengthAdjust="spacingAndGlyphs">GBT 20%</text>
<text x="574.4" y="386.6" text-anchor="middle" font-size="23" fill="#fff">GBT</text>
<text x="584" y="482.6" text-anchor="middle" font-size="22" class="red" textLength="172" lengthAdjust="spacingAndGlyphs">Biochar-GO@TiO<tspan font-size="14" dy="3">2</tspan></text>
<text x="1066" y="495" text-anchor="middle" font-size="23" class="red" textLength="132" lengthAdjust="spacingAndGlyphs">Adsorption +</text>
<text x="1066.5" y="522.7" text-anchor="middle" font-size="23" class="red" textLength="217.7" lengthAdjust="spacingAndGlyphs">Photocatalytic Effect</text>
<text x="190.6" y="540" text-anchor="middle" font-size="22" class="red" textLength="151" lengthAdjust="spacingAndGlyphs">TiO<tspan font-size="14" dy="3">2</tspan><tspan dy="-3"> Synthesis</tspan></text>
</g>
<g font-weight="bold" class="pur" font-size="20.5" text-anchor="middle">
<text x="269" y="581.2" textLength="218" lengthAdjust="spacingAndGlyphs">Possible Mechanisms:</text>
<text x="269.6" y="607.2" textLength="232.8" lengthAdjust="spacingAndGlyphs">1.Surface Complexation</text>
<text x="269" y="633.2" textLength="262" lengthAdjust="spacingAndGlyphs">2.Electrostatic Interactions</text>
<text x="269" y="659.2" textLength="198" lengthAdjust="spacingAndGlyphs">3.Hydrogen Bonding</text>
<text x="269.2" y="685.2" textLength="128" lengthAdjust="spacingAndGlyphs">4.Pore Filling</text>
<text x="269.6" y="711.2" textLength="144.8" lengthAdjust="spacingAndGlyphs">5.π-π Stacking</text>
<text x="269" y="737.2" textLength="282" lengthAdjust="spacingAndGlyphs">6.Photocatalytic Degradation</text>
</g>
<g font-weight="bold" class="teal">
<text x="560" y="523.4" font-size="15" textLength="352.3" lengthAdjust="spacingAndGlyphs">OTC−OH+GBT−COOH⟶[OTC−OH⋯:O=C−GBT]</text>
<text x="590.5" y="542.7" font-size="15" textLength="293.5" lengthAdjust="spacingAndGlyphs">GBT−OH+OTC=O⟶[GBT−OH⋯:O=OTC]</text>
<text x="631" y="729.5" font-size="18.5" textLength="534.5" lengthAdjust="spacingAndGlyphs">OTC−OH (enol) + OTC=O + Ti<tspan font-size="11" dy="-7">4+</tspan><tspan dy="7"> ⟶ OTC−O−Ti</tspan><tspan font-size="11" dy="-7">4+</tspan><tspan dy="7">(chelate)−O=OTC</tspan></text>
<text x="848" y="766" font-size="17" textLength="217.8" lengthAdjust="spacingAndGlyphs">OTC−NH<tspan font-size="11" dy="3">2</tspan><tspan dy="-3">+H</tspan><tspan font-size="11" dy="-6">+</tspan><tspan dy="6">⟶OTC−NH</tspan><tspan font-size="11" dy="3">3</tspan><tspan font-size="11" dy="-9">+</tspan></text>
<text x="838.9" y="788.4" font-size="17" textLength="238.4" lengthAdjust="spacingAndGlyphs">GBT−COOH⟶GBT−COO<tspan font-size="11" dy="-6">−</tspan><tspan dy="6">+H</tspan><tspan font-size="11" dy="-6">+</tspan></text>
<text x="745.7" y="809.5" font-size="17" textLength="421.7" lengthAdjust="spacingAndGlyphs">OTC−NH<tspan font-size="11" dy="3">3</tspan><tspan font-size="11" dy="-9">+</tspan><tspan dy="6">+GBT−COO</tspan><tspan font-size="11" dy="-6">−</tspan><tspan dy="6">⟶[OTC−NH</tspan><tspan font-size="11" dy="3">3</tspan><tspan font-size="11" dy="-9">+</tspan><tspan dy="6">⋯−COO</tspan><tspan font-size="11" dy="-6">−</tspan><tspan dy="6">−GBT]</tspan></text>
<text x="1033.5" y="314.4" font-size="16.8" fill="#2ea3a6" textLength="65.3" lengthAdjust="spacingAndGlyphs">TiO<tspan font-size="11" dy="3">2</tspan><tspan dy="-3"> + hv</tspan></text>
<text x="1150" y="314.4" font-size="16.8" fill="#2ea3a6" textLength="40" lengthAdjust="spacingAndGlyphs">e<tspan font-size="10" dy="-6">-</tspan><tspan dy="6"> + h</tspan><tspan font-size="10" dy="-6">+</tspan></text>
</g>
<path d="M1107,308.7 H1132" stroke="#1f7a6c" stroke-width="2.2"/><path d="M1138,308.7 L1129,304 L1129,313.4 Z" fill="#1f7a6c"/>
<g font-weight="bold" class="dred">
<text x="478.9" y="560.8" font-size="15.5" textLength="138.6" lengthAdjust="spacingAndGlyphs">Hydrogen Bonding</text>
<text x="592.8" y="688" font-size="20.5" textLength="131.8" lengthAdjust="spacingAndGlyphs">Chemisorption</text>
<text x="668.3" y="769" text-anchor="middle" font-size="20.5" textLength="112.6" lengthAdjust="spacingAndGlyphs">Electrostatic</text>
<text x="668" y="793.4" text-anchor="middle" font-size="20.5" textLength="90" lengthAdjust="spacingAndGlyphs">Attraction</text>
</g>

</svg>
</body></html>
